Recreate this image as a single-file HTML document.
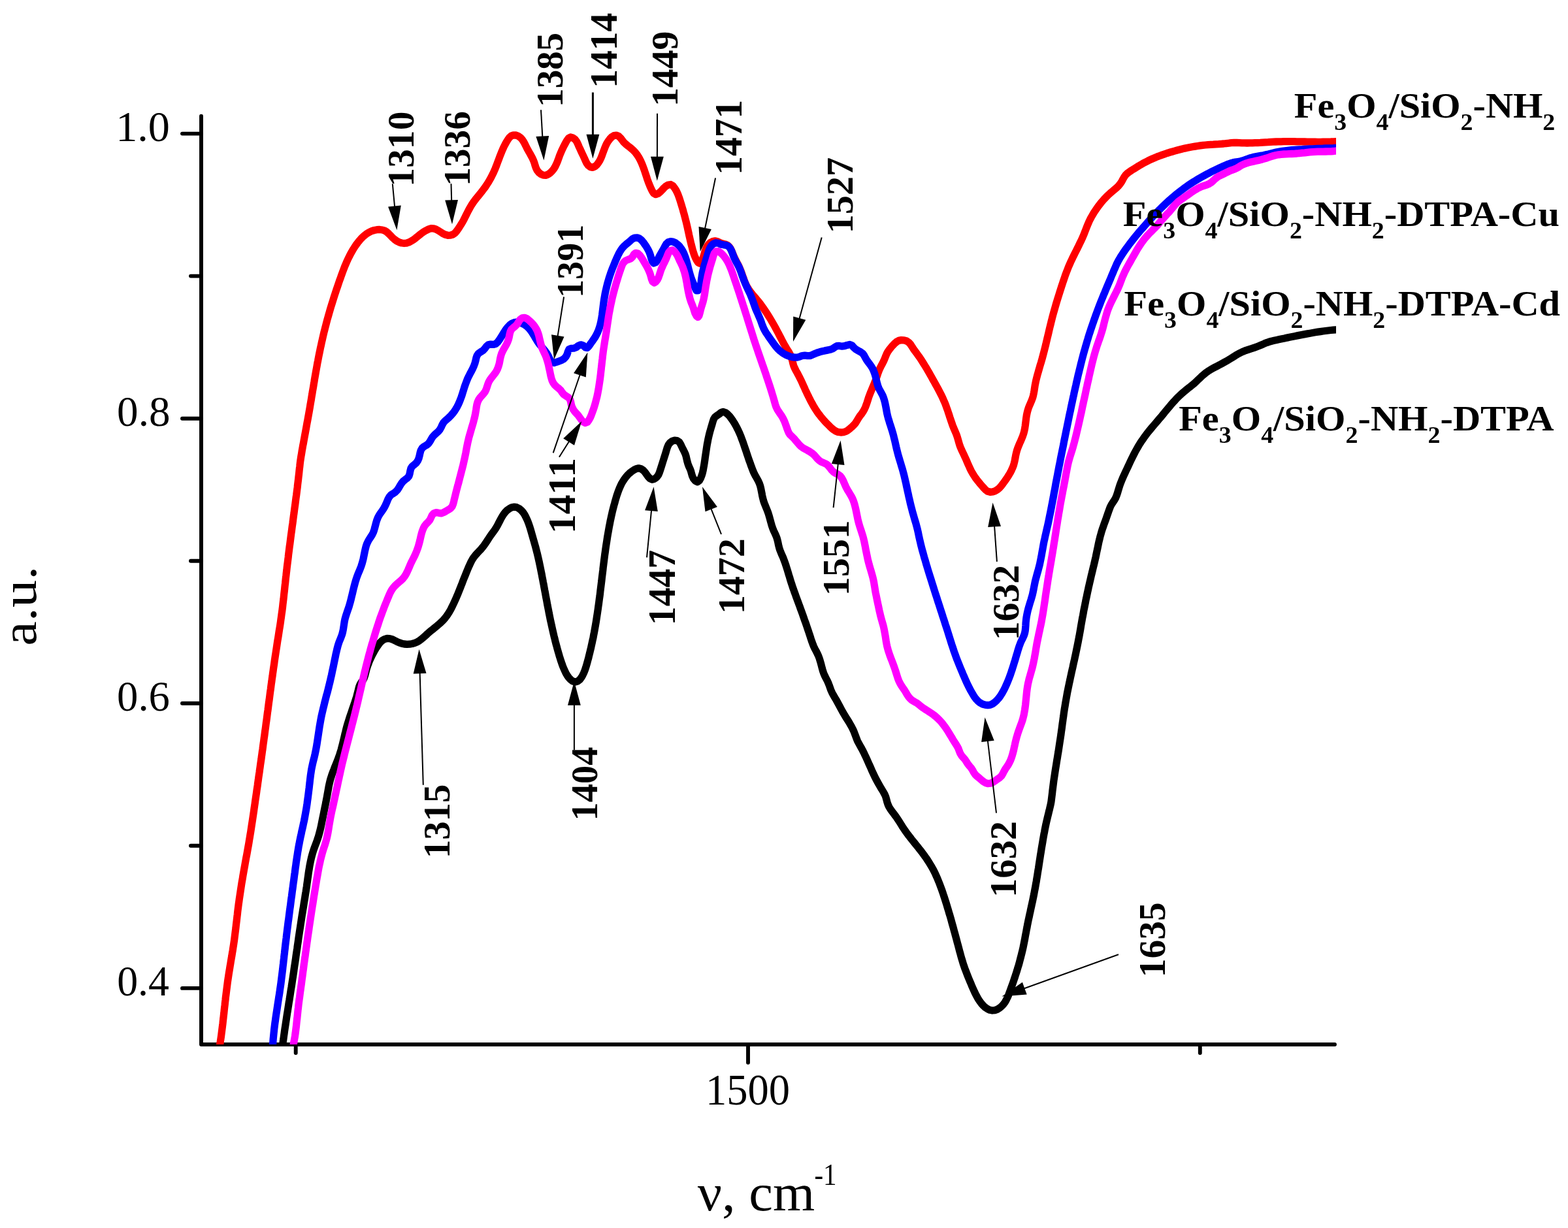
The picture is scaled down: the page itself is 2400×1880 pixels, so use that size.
<!DOCTYPE html>
<html lang="en"><head><meta charset="utf-8"><title>FTIR spectra</title>
<style>html,body{margin:0;padding:0;background:#fff}body{width:2400px;height:1880px;overflow:hidden}svg{display:block}text{font-family:"Liberation Serif","DejaVu Serif",serif;fill:#000}.b{font-weight:bold}</style></head><body>
<svg xmlns="http://www.w3.org/2000/svg" width="2400" height="1880" viewBox="0 0 2400 1880">
<rect width="2400" height="1880" fill="#fff"/>
<defs><clipPath id="plot"><rect x="308.0" y="0" width="1737.0" height="1599.0"/></clipPath></defs>
<g id="axes" stroke="#000" stroke-width="5.9" stroke-linecap="round" fill="none">
<path d="M308.0 177.8 V1599.0 H2043.0" stroke-linejoin="round"/>
<line x1="279.0" y1="204.6" x2="308.0" y2="204.6"/>
<line x1="292.0" y1="422.6" x2="308.0" y2="422.6"/>
<line x1="279.0" y1="640.7" x2="308.0" y2="640.7"/>
<line x1="292.0" y1="858.7" x2="308.0" y2="858.7"/>
<line x1="279.0" y1="1076.8" x2="308.0" y2="1076.8"/>
<line x1="292.0" y1="1294.8" x2="308.0" y2="1294.8"/>
<line x1="279.0" y1="1512.9" x2="308.0" y2="1512.9"/>
<line x1="452.7" y1="1599.0" x2="452.7" y2="1612.0"/>
<line x1="1145.0" y1="1599.0" x2="1145.0" y2="1626.8"/>
<line x1="1836.8" y1="1599.0" x2="1836.8" y2="1612.0"/>
</g>
<g id="curves" clip-path="url(#plot)" fill="none" stroke-linejoin="round" stroke-linecap="butt">
<path id="c-black" d="M427.1 1640.0L432.8 1598.5L433.3 1594.5L433.9 1590.6L434.4 1586.6L435.0 1582.6L435.5 1578.7L436.1 1574.7L436.7 1570.8L437.3 1566.8L437.9 1562.8L438.5 1558.9L439.1 1554.9L439.7 1551.0L440.4 1547.0L441.0 1543.0L441.6 1539.1L442.2 1535.1L442.9 1531.2L443.5 1527.2L444.1 1523.3L444.7 1519.3L445.3 1515.4L446.0 1511.4L446.6 1507.4L447.2 1503.5L447.8 1499.5L448.4 1495.6L449.0 1491.6L449.6 1487.6L450.1 1483.7L450.7 1479.7L451.3 1475.8L451.9 1471.8L452.5 1467.8L453.0 1463.9L453.6 1459.9L454.2 1455.9L454.8 1452.0L455.3 1448.0L455.9 1444.1L456.5 1440.1L457.0 1436.1L457.6 1432.2L458.2 1428.2L458.8 1424.2L459.4 1420.3L460.0 1416.3L460.6 1412.4L461.2 1408.4L461.8 1404.4L462.4 1400.5L463.1 1396.5L463.7 1392.6L464.4 1388.6L465.0 1384.7L465.6 1380.7L466.3 1376.8L466.9 1372.8L467.5 1368.9L468.2 1364.9L468.8 1360.9L469.4 1357.0L469.9 1353.0L470.5 1349.1L471.0 1345.1L471.6 1341.1L472.1 1337.2L472.7 1333.2L473.4 1329.2L474.0 1325.3L474.8 1321.4L475.6 1317.4L476.5 1313.5L477.5 1309.6L478.6 1305.8L479.8 1301.9L481.1 1298.2L482.5 1294.4L483.9 1290.7L485.3 1286.9L486.6 1283.1L487.8 1279.3L488.8 1275.5L489.8 1271.6L490.8 1267.7L491.6 1263.8L492.4 1259.8L493.2 1255.9L494.0 1252.0L494.8 1248.0L495.6 1244.1L496.4 1240.2L497.2 1236.2L498.0 1232.3L498.8 1228.4L499.5 1224.5L500.3 1220.5L501.0 1216.6L501.7 1212.6L502.4 1208.7L503.1 1204.7L503.9 1200.8L504.8 1196.9L505.8 1193.0L507.0 1189.2L508.2 1185.4L509.6 1181.7L511.1 1178.0L512.5 1174.2L514.0 1170.5L515.5 1166.8L517.0 1163.1L518.4 1159.3L519.7 1155.5L520.9 1151.7L522.1 1147.9L523.1 1144.0L524.1 1140.1L525.1 1136.2L526.0 1132.3L526.9 1128.4L527.8 1124.5L528.8 1120.6L529.7 1116.7L530.7 1112.8L531.8 1109.0L533.0 1105.2L534.2 1101.3L535.4 1097.6L536.7 1093.8L538.0 1090.0L539.3 1086.2L540.6 1082.4L541.9 1078.6L543.2 1074.8L544.4 1071.0L545.6 1067.2L546.6 1063.3L547.7 1059.4L548.6 1055.5L549.6 1051.6L551.0 1047.9L553.1 1044.5L555.5 1041.3L557.3 1037.8L558.6 1034.0L559.6 1030.1L560.6 1026.1L561.7 1022.3L563.0 1018.5L564.4 1014.7L565.9 1011.0L567.5 1007.4L569.3 1003.8L571.1 1000.2L573.0 996.7L575.0 993.3L577.2 989.9L579.6 986.5L582.1 983.3L585.0 980.6L588.4 978.6L592.3 977.5L596.4 977.6L600.2 978.7L603.9 980.5L607.5 982.3L611.1 983.9L614.9 985.2L618.8 986.0L622.9 986.3L627.0 986.2L631.0 985.5L634.9 984.4L638.5 982.8L641.9 980.8L645.0 978.5L648.1 975.9L651.1 973.2L654.0 970.5L657.1 967.8L660.2 965.2L663.4 962.7L666.5 960.1L669.6 957.6L672.6 955.0L675.6 952.3L678.4 949.5L681.0 946.5L683.4 943.4L685.7 940.1L687.8 936.7L689.8 933.2L691.6 929.6L693.4 926.0L695.1 922.3L696.8 918.7L698.4 915.0L700.0 911.3L701.5 907.6L703.0 903.9L704.5 900.2L705.9 896.5L707.4 892.8L708.8 889.1L710.3 885.3L711.8 881.6L713.3 877.9L714.8 874.2L716.3 870.5L717.9 866.8L719.6 863.1L721.3 859.5L723.3 856.0L725.5 852.7L728.0 849.6L730.7 846.6L733.5 843.7L736.2 840.8L738.8 837.7L741.2 834.6L743.5 831.3L745.7 827.9L747.9 824.5L750.0 821.2L752.4 817.9L754.8 814.7L757.1 811.5L759.3 808.1L761.3 804.7L763.1 801.1L765.0 797.5L766.8 794.0L768.8 790.5L770.9 787.2L773.4 784.0L776.3 781.1L779.6 778.7L783.2 776.8L787.1 776.1L790.9 776.7L794.5 778.5L797.7 781.1L800.4 784.1L802.7 787.4L804.6 791.0L806.3 794.6L807.9 798.3L809.3 802.0L810.6 805.8L811.8 809.6L812.9 813.4L814.0 817.3L815.1 821.1L816.2 825.0L817.3 828.8L818.4 832.7L819.5 836.5L820.5 840.4L821.5 844.3L822.5 848.2L823.4 852.1L824.3 856.0L825.2 859.9L826.0 863.8L826.8 867.7L827.6 871.6L828.4 875.6L829.2 879.5L829.9 883.4L830.7 887.4L831.4 891.3L832.2 895.2L832.9 899.2L833.6 903.1L834.4 907.0L835.1 911.0L835.8 914.9L836.6 918.8L837.3 922.8L838.0 926.7L838.8 930.6L839.6 934.6L840.3 938.5L841.1 942.4L841.9 946.3L842.7 950.3L843.6 954.2L844.4 958.1L845.3 962.0L846.2 965.9L847.1 969.9L848.0 973.8L849.0 977.7L849.9 981.5L850.9 985.4L852.0 989.3L853.0 993.1L854.1 997.0L855.2 1000.8L856.3 1004.6L857.5 1008.4L858.7 1012.2L860.0 1016.0L861.4 1019.8L862.9 1023.5L864.6 1027.3L866.3 1030.9L868.4 1034.4L870.7 1037.6L873.5 1040.5L876.7 1042.9L880.3 1044.0L884.1 1043.0L887.4 1040.5L889.9 1037.2L891.9 1033.7L893.6 1030.1L895.1 1026.4L896.4 1022.6L897.6 1018.8L898.7 1014.9L899.7 1011.1L900.8 1007.2L901.7 1003.3L902.7 999.4L903.6 995.5L904.6 991.6L905.4 987.7L906.3 983.8L907.1 979.9L908.0 976.0L908.7 972.0L909.5 968.1L910.2 964.2L910.9 960.2L911.6 956.3L912.3 952.3L912.9 948.4L913.5 944.4L914.1 940.5L914.7 936.5L915.3 932.5L915.8 928.6L916.4 924.6L916.9 920.6L917.4 916.7L918.0 912.7L918.5 908.7L918.9 904.7L919.4 900.8L919.9 896.8L920.4 892.8L920.9 888.8L921.3 884.9L921.8 880.9L922.3 876.9L922.8 872.9L923.2 868.9L923.7 865.0L924.2 861.0L924.7 857.0L925.2 853.1L925.7 849.1L926.3 845.1L926.8 841.2L927.4 837.2L928.0 833.2L928.6 829.3L929.2 825.3L929.8 821.4L930.5 817.4L931.2 813.5L931.9 809.5L932.6 805.6L933.4 801.7L934.1 797.8L935.0 793.8L935.8 789.9L936.7 786.0L937.6 782.1L938.6 778.2L939.6 774.3L940.7 770.5L941.7 766.6L942.9 762.7L944.0 758.9L945.3 755.1L946.6 751.3L948.1 747.6L949.7 744.0L951.4 740.4L953.4 737.0L955.6 733.6L958.0 730.4L960.6 727.3L963.5 724.5L966.7 721.9L970.1 719.6L973.7 717.7L977.5 716.8L981.2 717.7L984.6 720.0L987.3 723.0L989.6 726.3L992.1 729.8L995.0 732.8L998.4 734.1L1002.1 733.0L1005.4 730.3L1007.8 726.9L1009.4 723.2L1010.7 719.4L1011.9 715.5L1013.1 711.7L1014.3 707.9L1015.5 704.1L1016.7 700.3L1017.9 696.5L1019.1 692.7L1020.2 688.8L1021.4 684.9L1023.0 681.2L1025.4 678.0L1028.6 675.4L1032.5 674.2L1036.5 674.6L1039.7 676.7L1041.8 680.1L1043.6 684.0L1045.4 687.7L1047.3 691.3L1048.9 694.8L1050.1 698.5L1051.0 702.5L1051.9 706.4L1053.0 710.3L1054.4 714.0L1056.1 717.6L1057.5 721.3L1058.5 725.1L1059.7 729.0L1061.5 732.9L1064.4 736.3L1067.6 737.7L1070.3 735.9L1072.5 732.0L1074.1 727.8L1075.3 723.8L1076.2 719.9L1076.9 716.1L1077.6 712.2L1078.2 708.4L1078.8 704.4L1079.3 700.5L1079.9 696.5L1080.5 692.5L1081.1 688.5L1081.7 684.5L1082.3 680.6L1083.1 676.6L1083.8 672.7L1084.7 668.7L1085.6 664.9L1086.6 661.0L1087.7 657.2L1088.8 653.4L1090.0 649.5L1091.1 645.5L1092.4 641.7L1094.4 638.4L1097.3 636.2L1100.7 634.0L1103.8 631.5L1107.1 630.5L1110.7 631.8L1113.9 634.3L1116.7 637.2L1119.2 640.5L1121.5 643.8L1123.7 647.2L1125.7 650.6L1127.6 654.1L1129.4 657.7L1131.1 661.3L1132.7 665.0L1134.2 668.7L1135.6 672.5L1137.0 676.2L1138.3 680.0L1139.6 683.8L1140.9 687.6L1142.2 691.4L1143.4 695.2L1144.7 699.0L1146.0 702.8L1147.3 706.6L1148.7 710.3L1150.0 714.1L1151.4 717.8L1152.9 721.6L1154.5 725.2L1156.4 728.8L1158.4 732.3L1160.3 735.7L1162.0 739.3L1163.4 743.1L1164.4 746.9L1165.2 750.8L1166.0 754.8L1166.7 758.8L1167.6 762.7L1168.6 766.6L1169.9 770.4L1171.4 774.1L1172.9 777.8L1174.4 781.5L1175.8 785.3L1177.0 789.1L1178.1 793.0L1179.1 796.8L1180.2 800.7L1181.3 804.6L1182.6 808.4L1184.0 812.1L1185.7 815.7L1187.4 819.4L1188.9 823.1L1190.0 826.9L1190.9 830.8L1191.7 834.8L1192.7 838.7L1193.9 842.5L1195.4 846.2L1197.0 849.9L1198.6 853.6L1200.0 857.3L1201.4 861.0L1202.7 864.8L1203.9 868.6L1205.1 872.4L1206.3 876.3L1207.4 880.1L1208.6 883.9L1209.7 887.8L1210.9 891.6L1212.2 895.4L1213.4 899.2L1214.8 903.0L1216.1 906.8L1217.5 910.5L1218.8 914.3L1220.2 918.0L1221.6 921.8L1223.0 925.6L1224.4 929.3L1225.7 933.1L1227.1 936.8L1228.5 940.6L1229.8 944.4L1231.1 948.2L1232.5 951.9L1233.8 955.7L1235.1 959.5L1236.4 963.3L1237.7 967.1L1238.9 970.9L1240.2 974.7L1241.4 978.5L1242.7 982.3L1244.1 986.1L1245.6 989.8L1247.3 993.4L1249.2 996.9L1251.0 1000.5L1252.7 1004.1L1254.1 1007.9L1255.3 1011.7L1256.4 1015.5L1257.4 1019.4L1258.4 1023.3L1259.5 1027.2L1260.8 1031.0L1262.4 1034.6L1264.2 1038.2L1266.1 1041.8L1267.7 1045.4L1269.2 1049.2L1270.5 1052.9L1271.9 1056.7L1273.5 1060.3L1275.4 1063.9L1277.4 1067.3L1279.5 1070.8L1281.4 1074.3L1283.3 1077.8L1285.2 1081.3L1287.1 1084.9L1289.0 1088.4L1291.0 1091.8L1293.0 1095.3L1295.1 1098.7L1297.3 1102.1L1299.4 1105.5L1301.4 1109.0L1303.4 1112.5L1305.2 1116.0L1306.9 1119.6L1308.3 1123.4L1309.7 1127.1L1311.1 1130.9L1312.6 1134.6L1314.5 1138.1L1316.4 1141.6L1318.4 1145.1L1320.3 1148.6L1322.1 1152.2L1323.8 1155.8L1325.5 1159.4L1327.2 1163.1L1328.8 1166.7L1330.4 1170.4L1332.1 1174.0L1333.7 1177.7L1335.3 1181.4L1337.0 1185.0L1338.7 1188.6L1340.5 1192.2L1342.4 1195.7L1344.3 1199.2L1346.3 1202.7L1348.3 1206.2L1350.4 1209.6L1352.4 1213.0L1354.3 1216.5L1355.8 1220.2L1356.9 1224.1L1357.9 1228.0L1359.2 1231.9L1360.8 1235.4L1362.9 1238.8L1365.2 1242.1L1367.7 1245.3L1370.1 1248.5L1372.5 1251.8L1374.7 1255.1L1376.9 1258.5L1379.0 1261.9L1381.1 1265.3L1383.3 1268.6L1385.5 1271.9L1387.9 1275.2L1390.2 1278.4L1392.7 1281.5L1395.1 1284.7L1397.6 1287.8L1400.1 1290.9L1402.6 1294.0L1405.2 1297.1L1407.6 1300.3L1410.1 1303.4L1412.5 1306.6L1414.9 1309.9L1417.3 1313.2L1419.5 1316.5L1421.7 1319.8L1423.8 1323.3L1425.8 1326.7L1427.8 1330.2L1429.6 1333.7L1431.4 1337.3L1433.0 1340.9L1434.7 1344.6L1436.2 1348.3L1437.7 1352.0L1439.1 1355.7L1440.5 1359.5L1441.9 1363.3L1443.2 1367.1L1444.4 1370.9L1445.7 1374.7L1446.9 1378.5L1448.1 1382.3L1449.3 1386.1L1450.4 1390.0L1451.6 1393.8L1452.7 1397.7L1453.9 1401.5L1455.0 1405.3L1456.1 1409.2L1457.1 1413.0L1458.2 1416.9L1459.3 1420.8L1460.3 1424.6L1461.4 1428.5L1462.4 1432.3L1463.5 1436.2L1464.5 1440.1L1465.5 1443.9L1466.6 1447.8L1467.6 1451.7L1468.6 1455.6L1469.7 1459.4L1470.7 1463.3L1471.8 1467.1L1473.0 1471.0L1474.1 1474.8L1475.4 1478.6L1476.7 1482.4L1478.1 1486.1L1479.5 1489.8L1481.0 1493.6L1482.5 1497.3L1484.0 1501.0L1485.6 1504.7L1487.1 1508.4L1488.7 1512.1L1490.4 1515.8L1492.0 1519.4L1493.8 1523.0L1495.7 1526.5L1497.6 1529.9L1499.8 1533.2L1502.2 1536.4L1504.9 1539.4L1508.0 1542.3L1511.5 1544.6L1515.1 1546.3L1518.9 1547.0L1522.7 1546.6L1526.4 1545.3L1529.9 1543.2L1533.1 1540.5L1535.8 1537.6L1538.2 1534.4L1540.2 1530.9L1541.9 1527.4L1543.5 1523.7L1544.9 1519.9L1546.3 1516.1L1547.7 1512.3L1549.1 1508.5L1550.4 1504.8L1551.7 1501.0L1553.0 1497.2L1554.2 1493.4L1555.5 1489.5L1556.7 1485.7L1557.8 1481.9L1559.0 1478.1L1560.1 1474.2L1561.1 1470.4L1562.1 1466.5L1563.1 1462.6L1564.1 1458.8L1565.0 1454.9L1565.9 1451.0L1566.7 1447.1L1567.5 1443.1L1568.3 1439.2L1569.0 1435.2L1569.7 1431.3L1570.5 1427.4L1571.2 1423.4L1572.0 1419.5L1572.7 1415.5L1573.5 1411.6L1574.3 1407.7L1575.2 1403.8L1576.0 1399.8L1576.9 1395.9L1577.7 1392.0L1578.6 1388.1L1579.4 1384.2L1580.3 1380.3L1581.1 1376.4L1581.9 1372.5L1582.7 1368.6L1583.4 1364.6L1584.2 1360.7L1584.9 1356.8L1585.6 1352.8L1586.3 1348.9L1586.9 1344.9L1587.6 1341.0L1588.2 1337.0L1588.8 1333.1L1589.5 1329.1L1590.1 1325.1L1590.7 1321.2L1591.3 1317.2L1591.9 1313.3L1592.5 1309.3L1593.2 1305.3L1593.8 1301.4L1594.4 1297.4L1595.1 1293.5L1595.8 1289.5L1596.4 1285.6L1597.1 1281.6L1597.8 1277.7L1598.6 1273.8L1599.3 1269.8L1600.1 1265.9L1600.9 1262.0L1601.8 1258.1L1602.7 1254.2L1603.6 1250.3L1604.6 1246.4L1605.5 1242.5L1606.5 1238.6L1607.4 1234.7L1608.3 1230.8L1609.0 1226.9L1609.5 1222.9L1610.0 1218.9L1610.5 1215.0L1610.9 1211.0L1611.4 1207.0L1611.9 1203.0L1612.4 1199.0L1612.9 1195.1L1613.5 1191.1L1614.1 1187.2L1614.7 1183.2L1615.3 1179.2L1615.9 1175.3L1616.6 1171.3L1617.2 1167.4L1617.8 1163.4L1618.5 1159.5L1619.1 1155.5L1619.8 1151.6L1620.4 1147.6L1621.0 1143.7L1621.6 1139.7L1622.2 1135.7L1622.8 1131.8L1623.4 1127.8L1624.0 1123.9L1624.5 1119.9L1625.1 1115.9L1625.6 1112.0L1626.1 1108.0L1626.7 1104.0L1627.2 1100.1L1627.8 1096.1L1628.3 1092.1L1628.9 1088.2L1629.5 1084.2L1630.2 1080.3L1630.8 1076.3L1631.5 1072.4L1632.2 1068.4L1632.9 1064.5L1633.6 1060.6L1634.4 1056.6L1635.2 1052.7L1636.0 1048.8L1636.8 1044.9L1637.7 1041.0L1638.5 1037.0L1639.4 1033.1L1640.2 1029.2L1641.1 1025.3L1642.0 1021.4L1642.8 1017.5L1643.7 1013.6L1644.6 1009.7L1645.4 1005.8L1646.3 1001.8L1647.1 997.9L1647.9 994.0L1648.7 990.1L1649.5 986.2L1650.3 982.2L1651.0 978.3L1651.8 974.4L1652.5 970.4L1653.2 966.5L1653.9 962.5L1654.5 958.6L1655.2 954.6L1655.9 950.7L1656.6 946.7L1657.4 942.8L1658.1 938.9L1658.8 934.9L1659.6 931.0L1660.4 927.1L1661.2 923.2L1661.9 919.2L1662.8 915.3L1663.6 911.4L1664.4 907.5L1665.3 903.6L1666.1 899.6L1667.0 895.7L1667.9 891.8L1668.8 887.9L1669.7 884.0L1670.6 880.1L1671.6 876.2L1672.5 872.3L1673.4 868.5L1674.4 864.6L1675.3 860.7L1676.2 856.8L1677.1 852.9L1677.9 849.0L1678.7 845.0L1679.6 841.1L1680.4 837.2L1681.2 833.2L1682.0 829.3L1683.0 825.4L1683.9 821.5L1685.0 817.7L1686.1 813.8L1687.3 810.1L1688.6 806.3L1689.9 802.5L1691.3 798.7L1692.7 795.0L1694.0 791.2L1695.3 787.4L1696.6 783.6L1698.0 779.8L1699.4 776.0L1701.2 772.5L1703.4 769.1L1705.6 765.8L1707.6 762.4L1709.1 758.7L1710.4 754.9L1711.5 751.1L1712.7 747.2L1713.9 743.3L1715.3 739.6L1716.8 735.8L1718.3 732.1L1719.9 728.5L1721.6 724.8L1723.3 721.2L1725.0 717.6L1726.7 714.0L1728.4 710.4L1730.1 706.7L1731.8 703.1L1733.6 699.5L1735.4 695.9L1737.2 692.4L1739.1 688.9L1741.1 685.4L1743.1 681.9L1745.2 678.5L1747.4 675.2L1749.7 671.9L1752.0 668.6L1754.4 665.4L1756.8 662.2L1759.3 659.1L1761.9 656.0L1764.5 652.9L1767.1 649.9L1769.7 646.8L1772.3 643.8L1774.9 640.7L1777.5 637.7L1780.0 634.6L1782.5 631.5L1785.1 628.4L1787.6 625.4L1790.2 622.3L1792.8 619.2L1795.4 616.2L1798.1 613.3L1800.8 610.3L1803.6 607.5L1806.5 604.7L1809.5 602.0L1812.5 599.4L1815.6 596.8L1818.7 594.3L1821.9 591.9L1825.0 589.4L1828.1 586.8L1831.0 584.1L1833.9 581.3L1836.8 578.6L1839.7 575.8L1842.7 573.2L1845.8 570.6L1849.1 568.3L1852.5 566.2L1856.0 564.2L1859.5 562.3L1863.1 560.4L1866.6 558.6L1870.1 556.7L1873.6 554.8L1877.1 552.8L1880.6 550.8L1884.0 548.7L1887.4 546.6L1890.8 544.4L1894.2 542.4L1897.7 540.5L1901.3 538.7L1905.0 537.2L1908.8 535.9L1912.6 534.6L1916.4 533.4L1920.2 532.1L1924.0 530.7L1927.7 529.3L1931.4 527.7L1935.1 526.1L1938.8 524.6L1942.5 523.3L1946.4 522.2L1950.3 521.3L1954.2 520.5L1958.2 519.6L1962.1 518.8L1966.0 518.0L1969.9 517.1L1973.8 516.3L1977.7 515.5L1981.7 514.7L1985.6 513.9L1989.5 513.1L1993.4 512.4L1997.4 511.6L2001.3 510.9L2005.3 510.2L2009.2 509.5L2013.2 508.8L2017.1 508.2L2021.1 507.6L2025.0 507.0L2029.0 506.5L2033.0 506.0L2037.0 505.5L2040.9 505.1L2044.9 504.8L2060.0 504.8" stroke="#000" stroke-width="11.3"/>
<path id="c-red" d="M330.7 1640.0L336.7 1598.5L337.3 1594.5L337.9 1590.6L338.5 1586.6L339.0 1582.6L339.5 1578.7L340.0 1574.7L340.5 1570.7L341.0 1566.7L341.4 1562.8L341.9 1558.8L342.3 1554.8L342.8 1550.8L343.2 1546.8L343.6 1542.9L344.1 1538.9L344.5 1534.9L345.0 1530.9L345.4 1526.9L345.9 1523.0L346.4 1519.0L346.9 1515.0L347.4 1511.0L347.9 1507.1L348.4 1503.1L349.0 1499.1L349.6 1495.2L350.2 1491.2L350.8 1487.3L351.5 1483.3L352.1 1479.4L352.8 1475.4L353.4 1471.5L354.1 1467.5L354.8 1463.6L355.4 1459.6L356.1 1455.7L356.7 1451.7L357.3 1447.8L357.9 1443.8L358.5 1439.8L359.0 1435.9L359.5 1431.9L360.0 1427.9L360.5 1424.0L361.0 1420.0L361.4 1416.0L361.9 1412.0L362.4 1408.0L362.8 1404.1L363.3 1400.1L363.7 1396.1L364.2 1392.1L364.7 1388.2L365.2 1384.2L365.8 1380.2L366.3 1376.3L366.9 1372.3L367.5 1368.3L368.1 1364.4L368.7 1360.4L369.3 1356.5L369.9 1352.5L370.6 1348.6L371.3 1344.6L371.9 1340.7L372.6 1336.7L373.3 1332.8L374.0 1328.8L374.7 1324.9L375.4 1320.9L376.1 1317.0L376.8 1313.1L377.6 1309.1L378.3 1305.2L379.0 1301.2L379.7 1297.3L380.4 1293.4L381.1 1289.4L381.7 1285.5L382.4 1281.5L383.0 1277.6L383.7 1273.6L384.3 1269.7L384.9 1265.7L385.5 1261.7L386.1 1257.8L386.7 1253.8L387.3 1249.9L387.9 1245.9L388.5 1241.9L389.0 1238.0L389.6 1234.0L390.2 1230.0L390.7 1226.1L391.3 1222.1L391.9 1218.2L392.5 1214.2L393.0 1210.2L393.6 1206.3L394.2 1202.3L394.7 1198.3L395.3 1194.4L395.8 1190.4L396.4 1186.4L397.0 1182.5L397.5 1178.5L398.1 1174.5L398.6 1170.6L399.2 1166.6L399.8 1162.7L400.3 1158.7L400.9 1154.7L401.4 1150.8L402.0 1146.8L402.5 1142.8L403.0 1138.9L403.6 1134.9L404.1 1130.9L404.7 1126.9L405.2 1123.0L405.7 1119.0L406.3 1115.0L406.8 1111.1L407.3 1107.1L407.9 1103.1L408.4 1099.2L408.9 1095.2L409.4 1091.2L410.0 1087.3L410.5 1083.3L411.0 1079.3L411.5 1075.3L412.1 1071.4L412.6 1067.4L413.1 1063.4L413.6 1059.5L414.2 1055.5L414.7 1051.5L415.2 1047.6L415.8 1043.6L416.3 1039.6L416.9 1035.7L417.4 1031.7L418.0 1027.7L418.5 1023.8L419.1 1019.8L419.7 1015.8L420.2 1011.9L420.8 1007.9L421.4 1003.9L422.0 1000.0L422.6 996.0L423.2 992.1L423.8 988.1L424.4 984.2L425.0 980.2L425.7 976.2L426.3 972.3L426.9 968.3L427.5 964.4L428.2 960.4L428.8 956.5L429.4 952.5L429.9 948.6L430.5 944.6L431.0 940.6L431.6 936.7L432.1 932.7L432.6 928.7L433.0 924.7L433.5 920.8L434.0 916.8L434.4 912.8L434.8 908.8L435.3 904.8L435.7 900.9L436.1 896.9L436.6 892.9L437.0 888.9L437.4 884.9L437.9 880.9L438.3 877.0L438.8 873.0L439.2 869.0L439.7 865.0L440.2 861.1L440.7 857.1L441.2 853.1L441.6 849.1L442.1 845.2L442.6 841.2L443.1 837.2L443.7 833.2L444.2 829.3L444.7 825.3L445.2 821.3L445.7 817.4L446.3 813.4L446.8 809.4L447.3 805.5L447.9 801.5L448.4 797.5L448.9 793.5L449.4 789.6L450.0 785.6L450.5 781.6L451.0 777.7L451.6 773.7L452.1 769.7L452.6 765.8L453.1 761.8L453.7 757.8L454.2 753.8L454.7 749.9L455.2 745.9L455.6 741.9L456.1 737.9L456.6 734.0L457.0 730.0L457.5 726.0L457.9 722.0L458.3 718.0L458.8 714.1L459.2 710.1L459.7 706.1L460.3 702.2L460.9 698.2L461.6 694.3L462.2 690.3L462.9 686.4L463.6 682.4L464.4 678.5L465.1 674.6L465.8 670.6L466.5 666.7L467.3 662.7L468.0 658.8L468.7 654.9L469.4 650.9L470.1 647.0L470.9 643.0L471.6 639.1L472.3 635.1L473.0 631.2L473.7 627.3L474.4 623.3L475.0 619.4L475.7 615.4L476.4 611.5L477.0 607.5L477.7 603.6L478.3 599.6L479.0 595.7L479.7 591.7L480.3 587.8L481.0 583.9L481.6 579.9L482.3 576.0L483.0 572.0L483.7 568.1L484.4 564.1L485.1 560.2L485.8 556.2L486.6 552.3L487.3 548.4L488.1 544.4L488.9 540.5L489.7 536.6L490.5 532.7L491.4 528.7L492.2 524.8L493.1 520.9L494.0 517.0L494.9 513.1L495.8 509.2L496.8 505.3L497.8 501.4L498.8 497.6L499.8 493.7L500.8 489.8L501.9 486.0L503.0 482.1L504.1 478.3L505.2 474.4L506.3 470.6L507.5 466.8L508.7 463.0L509.9 459.1L511.1 455.3L512.3 451.5L513.6 447.7L514.8 443.9L516.1 440.1L517.4 436.3L518.7 432.5L520.0 428.7L521.4 425.0L522.7 421.2L524.1 417.4L525.5 413.6L526.9 409.9L528.4 406.2L530.0 402.5L531.6 398.8L533.3 395.2L535.1 391.6L536.9 388.1L538.9 384.6L540.9 381.2L543.1 377.8L545.3 374.5L547.7 371.3L550.3 368.1L552.9 365.1L555.8 362.3L558.8 359.7L562.0 357.3L565.4 355.3L569.0 353.7L572.8 352.5L576.9 351.7L581.1 351.5L585.1 352.0L588.8 353.2L592.1 355.2L595.0 357.8L597.8 360.7L600.6 363.6L603.7 366.4L607.1 368.9L610.8 370.8L614.6 372.0L618.5 372.5L622.3 372.1L626.0 370.9L629.5 369.1L632.9 366.9L636.2 364.4L639.4 361.8L642.6 359.3L645.7 356.9L648.9 354.7L652.4 352.7L656.0 350.9L659.9 349.7L663.8 349.8L667.5 351.1L671.1 353.1L674.6 355.4L678.1 357.6L681.7 359.3L685.5 360.3L689.4 360.2L693.3 359.0L696.6 356.6L699.2 353.5L701.5 350.2L703.7 346.9L705.8 343.5L707.9 340.1L709.8 336.6L711.6 333.0L713.4 329.4L715.2 325.8L717.0 322.2L718.9 318.7L720.9 315.2L723.0 311.9L725.3 308.6L727.7 305.4L730.2 302.3L732.8 299.1L735.3 296.0L737.8 292.9L740.2 289.7L742.6 286.5L744.8 283.2L747.0 279.8L749.0 276.4L751.0 272.9L752.8 269.4L754.6 265.8L756.3 262.1L757.9 258.4L759.4 254.7L760.8 250.9L762.2 247.1L763.6 243.4L765.0 239.6L766.5 235.9L768.0 232.2L769.5 228.6L771.1 225.0L772.9 221.5L774.8 218.0L777.0 214.4L779.4 210.9L782.4 208.1L785.9 206.8L789.8 207.0L793.6 208.5L796.8 210.8L799.4 213.7L801.6 217.1L803.5 220.7L805.3 224.4L807.1 228.0L809.1 231.6L811.1 235.0L813.0 238.5L814.9 242.0L816.5 245.6L817.9 249.3L819.0 253.1L820.3 257.0L822.1 260.7L824.7 264.0L827.9 266.6L831.5 268.2L835.2 268.4L838.7 267.1L842.1 264.8L845.1 261.8L847.7 258.5L849.8 255.0L851.5 251.4L853.1 247.7L854.5 244.0L855.8 240.3L857.2 236.6L858.7 233.0L860.3 229.4L862.0 225.8L863.8 222.2L865.8 218.5L867.9 214.8L870.3 211.6L873.3 210.0L876.9 210.9L880.3 213.5L882.7 216.8L884.5 220.5L886.1 224.3L887.8 227.9L889.4 231.5L891.1 235.1L892.8 238.6L894.5 242.3L896.1 246.0L897.9 249.7L900.2 253.0L903.5 255.6L907.3 256.4L910.7 254.9L913.7 252.1L916.1 248.9L918.2 245.5L919.9 241.8L921.4 238.1L922.8 234.2L924.2 230.4L925.6 226.7L927.1 223.0L928.8 219.5L930.9 216.1L933.4 212.8L936.3 209.8L939.6 207.6L943.3 207.1L947.0 208.6L950.0 211.5L952.4 214.7L954.9 217.9L957.8 220.6L960.9 223.2L964.1 225.6L967.2 228.2L970.2 230.9L972.8 233.8L975.2 237.0L977.4 240.3L979.3 243.8L981.1 247.4L982.7 251.1L984.2 254.9L985.6 258.7L986.9 262.5L988.2 266.3L989.4 270.0L990.6 273.8L991.9 277.5L993.3 281.2L994.8 284.9L996.5 288.7L998.4 292.6L1000.7 296.1L1003.7 297.7L1007.2 296.5L1010.5 293.9L1013.4 290.9L1016.1 287.9L1019.1 285.1L1022.8 283.0L1026.6 282.5L1029.8 284.4L1032.3 287.5L1034.5 290.9L1036.3 294.4L1037.9 298.1L1039.3 301.9L1040.6 305.8L1041.8 309.6L1043.0 313.5L1044.1 317.3L1045.3 321.2L1046.3 325.0L1047.4 328.8L1048.4 332.7L1049.4 336.6L1050.4 340.4L1051.3 344.3L1052.2 348.2L1053.0 352.1L1053.9 356.0L1054.7 359.9L1055.6 363.8L1056.5 367.7L1057.4 371.6L1058.4 375.5L1059.4 379.4L1060.4 383.3L1061.6 387.2L1062.9 391.0L1064.4 394.7L1066.3 398.4L1068.6 401.9L1071.1 403.2L1073.6 400.7L1075.5 396.8L1076.8 392.9L1077.9 389.0L1079.0 385.0L1080.4 381.2L1082.1 377.5L1084.4 374.2L1087.3 371.5L1090.7 369.6L1094.5 368.9L1098.3 369.7L1102.0 371.6L1106.0 373.0L1109.9 373.9L1113.4 375.2L1116.1 377.6L1118.3 380.8L1120.1 384.6L1121.7 388.7L1123.4 392.7L1125.1 396.5L1127.0 400.1L1128.9 403.6L1130.7 407.1L1132.3 410.7L1133.8 414.3L1135.2 418.1L1136.5 421.9L1137.9 425.7L1139.2 429.5L1140.7 433.3L1142.4 436.9L1144.3 440.4L1146.4 443.7L1148.7 446.9L1151.2 450.1L1153.8 453.1L1156.4 456.2L1159.0 459.3L1161.5 462.4L1164.0 465.6L1166.3 468.8L1168.7 472.1L1170.9 475.4L1173.1 478.7L1175.3 482.1L1177.4 485.5L1179.5 488.9L1181.5 492.3L1183.5 495.8L1185.5 499.3L1187.4 502.8L1189.3 506.4L1191.2 509.9L1193.0 513.4L1194.9 517.0L1196.7 520.5L1198.6 524.1L1200.5 527.6L1202.5 531.1L1204.5 534.5L1206.7 537.9L1208.7 541.4L1210.5 544.9L1211.9 548.7L1212.9 552.5L1213.8 556.4L1214.9 560.3L1216.5 563.9L1218.3 567.5L1220.3 571.0L1222.2 574.6L1224.0 578.1L1225.8 581.7L1227.5 585.3L1229.1 589.0L1230.8 592.6L1232.4 596.3L1234.1 599.9L1235.8 603.5L1237.6 607.1L1239.3 610.7L1241.2 614.3L1243.1 617.8L1245.0 621.3L1247.1 624.7L1249.2 628.1L1251.5 631.4L1253.8 634.6L1256.3 637.8L1258.9 640.9L1261.5 643.9L1264.2 646.8L1267.0 649.7L1269.9 652.6L1272.8 655.3L1275.8 657.8L1279.1 659.9L1282.8 661.4L1286.9 662.0L1291.1 661.7L1294.8 660.5L1298.1 658.4L1301.3 655.8L1304.3 653.2L1307.2 650.3L1309.7 647.3L1311.8 643.9L1313.8 640.5L1316.0 637.1L1318.5 633.9L1320.8 630.6L1322.8 627.2L1324.5 623.5L1325.9 619.8L1327.2 616.0L1328.4 612.2L1329.6 608.4L1331.0 604.6L1332.4 600.9L1334.0 597.2L1335.5 593.5L1337.1 589.8L1338.6 586.1L1340.1 582.4L1341.4 578.6L1342.7 574.8L1344.0 571.0L1345.4 567.2L1347.0 563.6L1348.8 560.0L1350.7 556.5L1352.5 552.9L1354.1 549.2L1355.6 545.4L1357.1 541.8L1359.0 538.3L1361.3 535.1L1363.8 531.9L1366.5 528.8L1369.3 525.8L1372.3 523.3L1375.7 521.4L1379.6 520.6L1383.7 520.8L1387.6 522.0L1391.0 524.2L1393.6 527.1L1395.8 530.5L1398.0 533.9L1400.3 537.2L1402.7 540.4L1405.1 543.7L1407.4 546.9L1409.6 550.2L1411.8 553.6L1413.9 557.0L1416.0 560.4L1418.1 563.8L1420.1 567.3L1422.1 570.7L1424.1 574.2L1426.1 577.7L1428.0 581.2L1430.0 584.7L1431.9 588.2L1433.9 591.7L1435.8 595.2L1437.7 598.8L1439.5 602.3L1441.3 605.9L1443.0 609.5L1444.6 613.2L1446.2 616.8L1447.7 620.6L1449.0 624.3L1450.4 628.1L1451.6 631.9L1452.9 635.7L1454.1 639.5L1455.4 643.3L1456.7 647.1L1458.0 650.9L1459.4 654.6L1461.0 658.3L1462.6 662.0L1464.1 665.7L1465.4 669.5L1466.5 673.3L1467.6 677.2L1468.7 681.0L1470.1 684.8L1471.7 688.5L1473.4 692.1L1475.1 695.7L1476.8 699.3L1478.5 703.0L1480.1 706.7L1481.6 710.3L1483.3 714.0L1484.9 717.6L1486.7 721.2L1488.7 724.7L1490.8 728.1L1493.0 731.5L1495.4 734.7L1497.9 737.8L1500.4 740.9L1503.0 743.9L1505.7 746.9L1508.6 750.0L1511.8 752.3L1515.6 753.3L1519.6 752.9L1523.5 751.6L1526.8 749.5L1529.8 746.9L1532.4 744.0L1534.9 740.8L1537.3 737.5L1539.6 734.2L1541.9 730.8L1544.1 727.4L1546.1 724.0L1548.0 720.4L1549.6 716.8L1551.1 713.1L1552.2 709.3L1553.1 705.4L1553.9 701.5L1554.6 697.5L1555.5 693.5L1556.5 689.7L1557.8 685.9L1559.3 682.1L1560.8 678.5L1562.5 674.8L1564.1 671.1L1565.5 667.4L1566.8 663.7L1567.8 659.8L1568.6 655.9L1569.2 652.0L1569.7 648.0L1570.2 644.0L1570.7 640.0L1571.3 636.0L1572.1 632.1L1573.1 628.2L1574.3 624.4L1575.8 620.7L1577.4 617.0L1579.0 613.3L1580.4 609.6L1581.5 605.7L1582.3 601.8L1583.0 597.9L1583.6 593.9L1584.2 590.0L1585.0 586.0L1585.8 582.1L1586.8 578.2L1587.8 574.3L1588.9 570.5L1590.0 566.6L1591.1 562.8L1592.2 558.9L1593.4 555.1L1594.5 551.3L1595.6 547.4L1596.6 543.5L1597.6 539.7L1598.6 535.8L1599.6 531.9L1600.6 528.0L1601.5 524.1L1602.4 520.2L1603.3 516.3L1604.3 512.4L1605.2 508.5L1606.1 504.6L1607.0 500.8L1608.0 496.9L1608.9 493.0L1609.9 489.1L1610.9 485.2L1611.9 481.4L1613.0 477.5L1614.1 473.6L1615.2 469.8L1616.3 465.9L1617.4 462.1L1618.6 458.3L1619.8 454.4L1621.0 450.6L1622.2 446.8L1623.4 443.0L1624.6 439.2L1625.9 435.4L1627.1 431.6L1628.4 427.8L1629.7 424.0L1631.0 420.2L1632.4 416.5L1633.9 412.7L1635.3 409.0L1636.9 405.4L1638.5 401.7L1640.2 398.1L1641.9 394.5L1643.7 390.9L1645.5 387.3L1647.3 383.7L1649.1 380.1L1650.9 376.5L1652.6 372.9L1654.4 369.3L1656.1 365.7L1657.7 362.0L1659.3 358.3L1660.7 354.6L1662.2 350.8L1663.6 347.1L1665.1 343.4L1666.7 339.7L1668.4 336.1L1670.3 332.5L1672.3 329.1L1674.3 325.6L1676.5 322.3L1678.8 319.0L1681.1 315.7L1683.6 312.5L1686.1 309.4L1688.7 306.4L1691.4 303.4L1694.2 300.6L1697.1 297.8L1700.0 295.1L1703.1 292.5L1706.2 289.9L1709.3 287.2L1712.1 284.4L1714.6 281.4L1716.8 278.1L1718.7 274.5L1720.7 271.0L1723.0 267.8L1725.8 265.1L1729.1 262.7L1732.4 260.5L1735.9 258.4L1739.3 256.2L1742.7 254.1L1746.2 252.1L1749.6 250.1L1753.2 248.2L1756.7 246.4L1760.3 244.7L1764.0 243.0L1767.6 241.5L1771.3 239.9L1775.1 238.5L1778.8 237.1L1782.6 235.8L1786.4 234.5L1790.2 233.3L1794.1 232.2L1797.9 231.1L1801.8 230.0L1805.7 229.0L1809.6 228.0L1813.5 227.1L1817.4 226.3L1821.3 225.5L1825.2 224.8L1829.2 224.1L1833.1 223.5L1837.1 222.9L1841.0 222.4L1845.0 222.0L1849.0 221.6L1853.0 221.3L1857.0 221.1L1861.0 220.8L1865.0 220.6L1869.0 220.3L1873.0 220.0L1877.0 219.6L1881.0 219.2L1884.9 218.7L1888.9 218.5L1892.9 218.4L1896.9 218.6L1900.9 218.8L1904.9 218.9L1908.9 219.0L1912.9 218.9L1916.9 218.9L1920.9 218.7L1924.9 218.6L1928.9 218.4L1932.9 218.1L1936.9 217.9L1940.9 217.7L1944.9 217.4L1948.9 217.2L1952.9 217.0L1956.9 216.9L1960.9 216.8L1964.9 216.7L1969.0 216.7L1973.0 216.7L1977.0 216.7L1981.0 216.7L1985.0 216.8L1989.0 216.8L1993.0 216.9L1997.0 217.0L2001.0 217.1L2005.0 217.1L2009.0 217.2L2013.0 217.2L2017.0 217.3L2021.0 217.3L2025.0 217.2L2029.0 217.2L2033.0 217.1L2037.0 217.0L2041.0 216.8L2045.0 216.6L2060.0 216.6" stroke="#f00" stroke-width="11.3"/>
<path id="c-blue" d="M414.3 1640.0L417.6 1598.5L417.9 1594.5L418.2 1590.5L418.6 1586.5L419.0 1582.5L419.4 1578.5L419.8 1574.6L420.3 1570.6L420.8 1566.6L421.4 1562.6L421.9 1558.7L422.5 1554.7L423.1 1550.7L423.7 1546.8L424.3 1542.8L424.9 1538.9L425.5 1534.9L426.1 1531.0L426.7 1527.0L427.4 1523.0L428.0 1519.1L428.5 1515.1L429.1 1511.1L429.7 1507.2L430.2 1503.2L430.7 1499.2L431.2 1495.3L431.7 1491.3L432.2 1487.3L432.7 1483.3L433.1 1479.3L433.6 1475.4L434.0 1471.4L434.5 1467.4L434.9 1463.4L435.4 1459.4L435.8 1455.5L436.3 1451.5L436.7 1447.5L437.2 1443.5L437.7 1439.5L438.2 1435.6L438.6 1431.6L439.1 1427.6L439.6 1423.6L440.1 1419.7L440.6 1415.7L441.1 1411.7L441.7 1407.7L442.2 1403.8L442.7 1399.8L443.2 1395.8L443.7 1391.9L444.3 1387.9L444.8 1383.9L445.3 1379.9L445.8 1376.0L446.4 1372.0L446.9 1368.0L447.4 1364.1L448.0 1360.1L448.5 1356.1L449.0 1352.1L449.6 1348.2L450.1 1344.2L450.6 1340.2L451.2 1336.3L451.7 1332.3L452.2 1328.3L452.8 1324.3L453.3 1320.4L453.9 1316.4L454.5 1312.4L455.1 1308.5L455.7 1304.5L456.4 1300.6L457.0 1296.6L457.8 1292.7L458.5 1288.8L459.3 1284.8L460.1 1280.9L461.0 1277.0L461.8 1273.1L462.7 1269.2L463.6 1265.2L464.4 1261.3L465.3 1257.4L466.1 1253.5L466.8 1249.6L467.5 1245.6L468.2 1241.7L468.9 1237.7L469.5 1233.8L470.1 1229.8L470.6 1225.8L471.2 1221.9L471.7 1217.9L472.2 1213.9L472.7 1209.9L473.2 1205.9L473.6 1202.0L474.1 1198.0L474.5 1194.0L475.0 1190.0L475.5 1186.0L476.1 1182.1L476.7 1178.1L477.5 1174.2L478.3 1170.3L479.2 1166.4L480.2 1162.5L481.2 1158.6L482.1 1154.7L482.9 1150.8L483.7 1146.8L484.4 1142.9L485.1 1139.0L485.7 1135.0L486.3 1131.0L486.9 1127.1L487.5 1123.1L488.1 1119.1L488.7 1115.2L489.3 1111.2L490.0 1107.3L490.7 1103.3L491.4 1099.4L492.2 1095.5L493.1 1091.6L494.0 1087.7L494.9 1083.8L495.9 1079.9L496.8 1076.0L497.8 1072.1L498.8 1068.2L499.8 1064.3L500.9 1060.5L501.9 1056.6L502.9 1052.7L503.8 1048.8L504.8 1044.9L505.7 1041.0L506.6 1037.1L507.5 1033.2L508.3 1029.3L509.1 1025.4L510.0 1021.5L510.8 1017.5L511.6 1013.6L512.4 1009.7L513.2 1005.8L514.0 1001.8L514.9 997.9L515.8 994.0L516.8 990.1L517.9 986.3L519.2 982.5L520.7 978.8L522.2 975.1L523.6 971.3L524.6 967.5L525.4 963.5L526.0 959.5L526.6 955.6L527.2 951.6L528.0 947.7L529.1 943.8L530.3 940.0L531.6 936.2L532.9 932.4L534.2 928.6L535.3 924.8L536.4 920.9L537.4 917.0L538.3 913.1L539.3 909.2L540.2 905.3L541.1 901.4L542.1 897.5L543.1 893.7L544.2 889.8L545.4 886.0L546.7 882.2L548.1 878.5L549.7 874.8L551.2 871.1L552.7 867.3L553.9 863.6L555.0 859.7L556.0 855.9L556.8 851.9L557.6 848.0L558.4 844.0L559.3 840.0L560.3 836.1L561.6 832.4L563.3 828.8L565.3 825.3L567.5 822.0L569.7 818.6L571.4 815.1L572.7 811.3L573.8 807.4L574.8 803.5L575.8 799.6L577.0 795.8L578.5 792.1L580.4 788.6L582.7 785.2L585.0 782.0L587.2 778.6L589.2 775.1L590.9 771.5L592.5 767.8L594.0 764.0L596.0 760.5L598.6 757.6L602.0 755.4L605.3 753.2L608.0 750.4L610.3 747.1L612.3 743.5L614.4 740.1L617.0 736.9L620.1 734.3L623.4 731.9L625.9 729.0L627.1 725.2L627.9 721.0L628.9 717.1L631.0 713.8L634.1 711.3L637.2 708.7L639.4 705.4L641.0 701.7L642.1 697.6L643.0 693.4L644.1 689.5L646.0 686.2L649.0 683.7L652.5 681.7L655.7 679.2L658.0 676.0L660.0 672.4L662.1 669.0L664.8 666.0L667.8 663.3L670.8 660.6L673.3 657.6L675.2 654.1L676.9 650.4L678.9 646.9L681.6 644.0L684.6 641.4L687.6 638.7L690.5 635.8L693.1 632.8L695.5 629.6L697.7 626.2L699.7 622.8L701.5 619.2L703.1 615.6L704.6 611.9L706.0 608.1L707.3 604.3L708.5 600.4L709.7 596.6L710.9 592.7L712.2 588.9L713.6 585.1L715.0 581.4L716.6 577.8L718.4 574.2L720.2 570.7L722.1 567.2L723.9 563.6L725.5 559.9L726.9 556.1L728.0 552.0L728.9 547.9L730.2 544.2L732.4 541.1L735.6 538.9L739.1 536.7L742.0 533.8L744.5 530.3L747.2 527.8L750.9 527.2L755.0 527.4L758.7 526.5L761.7 523.8L764.2 520.4L766.4 516.9L768.6 513.4L770.7 510.0L772.8 506.6L775.1 503.4L777.6 500.3L780.4 497.4L783.6 495.1L787.1 493.6L791.0 493.2L795.0 493.7L799.0 495.1L802.8 497.0L806.1 499.3L809.0 502.1L811.6 505.1L814.0 508.3L816.1 511.7L818.2 515.1L820.2 518.6L822.3 522.0L824.5 525.3L826.8 528.4L829.4 531.4L831.9 534.4L834.5 537.5L836.9 540.8L839.0 544.5L840.9 548.5L842.8 552.2L845.2 554.8L848.3 555.5L852.3 554.2L856.3 552.7L860.1 551.2L863.3 549.3L866.0 546.3L868.0 542.6L869.3 538.3L871.0 534.7L874.1 533.4L878.2 533.2L882.0 531.8L885.2 529.2L888.9 527.8L892.7 528.9L895.9 531.9L898.8 532.5L901.6 529.6L904.2 525.8L906.6 522.5L908.8 519.3L911.0 516.0L912.9 512.5L914.7 508.9L916.2 505.2L917.5 501.4L918.6 497.6L919.5 493.8L920.3 489.9L921.0 485.9L921.6 482.0L922.1 478.0L922.6 474.0L923.1 470.0L923.6 466.0L924.1 462.0L924.7 458.0L925.4 454.0L926.1 450.0L926.9 446.1L927.8 442.2L928.7 438.3L929.7 434.4L930.8 430.6L931.9 426.8L933.1 423.0L934.4 419.2L935.7 415.4L937.1 411.7L938.6 408.0L940.1 404.3L941.6 400.6L943.2 396.9L944.9 393.2L946.6 389.5L948.5 385.9L950.6 382.5L952.9 379.3L955.6 376.4L958.6 373.8L961.8 371.3L964.8 368.6L967.8 365.9L971.4 364.1L975.3 363.8L978.8 365.1L981.9 367.6L984.6 370.8L987.0 374.3L989.3 377.6L991.3 381.0L993.1 384.4L994.6 388.0L995.8 391.8L996.9 395.8L998.4 399.9L1000.6 402.9L1003.6 401.8L1006.1 398.5L1008.0 394.7L1009.9 391.0L1011.9 387.6L1013.8 384.3L1015.7 380.9L1017.7 377.2L1019.9 373.4L1022.7 370.7L1026.3 369.7L1030.2 370.2L1033.9 371.8L1037.2 374.2L1040.1 377.1L1042.5 380.3L1044.7 383.8L1046.5 387.3L1048.0 391.0L1049.3 394.7L1050.5 398.5L1051.6 402.3L1052.6 406.2L1053.5 410.1L1054.5 414.1L1055.6 418.0L1056.7 421.8L1057.9 425.6L1059.3 429.3L1060.7 432.8L1062.3 436.5L1064.0 440.9L1065.9 444.8L1068.3 444.9L1070.6 441.3L1072.1 437.2L1073.0 433.1L1073.4 429.2L1073.9 425.3L1074.5 421.4L1075.2 417.5L1076.1 413.6L1077.1 409.8L1078.1 405.9L1079.3 402.1L1080.4 398.2L1081.6 394.4L1082.8 390.5L1084.0 386.5L1085.3 382.7L1086.9 379.0L1089.1 375.8L1092.0 373.2L1095.8 371.7L1099.7 372.4L1103.4 374.1L1107.5 374.8L1111.4 375.3L1114.7 376.8L1117.2 379.5L1119.2 383.0L1120.9 387.1L1122.4 391.3L1124.1 395.4L1125.9 399.1L1127.8 402.6L1129.7 406.0L1131.4 409.5L1132.9 413.1L1134.3 416.9L1135.6 420.7L1137.0 424.5L1138.4 428.3L1139.9 432.0L1141.5 435.7L1143.1 439.4L1144.8 443.0L1146.5 446.6L1148.2 450.2L1149.7 453.9L1151.2 457.6L1152.6 461.4L1153.9 465.2L1155.2 468.9L1156.6 472.7L1158.2 476.4L1159.8 480.0L1161.4 483.7L1163.0 487.4L1164.5 491.1L1165.8 494.9L1167.2 498.7L1168.7 502.4L1170.5 505.9L1172.5 509.3L1174.8 512.7L1177.0 516.0L1179.3 519.3L1181.6 522.6L1184.0 525.9L1186.4 529.1L1188.9 532.2L1191.6 535.1L1194.5 537.7L1197.6 540.2L1201.0 542.3L1204.6 544.1L1208.4 545.6L1212.3 546.6L1216.3 547.2L1220.3 547.1L1224.1 546.1L1227.9 544.6L1231.8 544.2L1235.8 544.7L1239.7 544.6L1243.4 543.2L1247.2 541.5L1250.9 540.0L1254.7 538.8L1258.6 537.8L1262.5 536.9L1266.4 536.1L1270.4 535.3L1274.2 534.0L1277.6 531.7L1281.0 529.7L1284.8 529.5L1288.8 530.2L1292.7 529.7L1296.6 528.4L1300.7 527.4L1304.0 528.7L1306.6 531.8L1309.7 534.6L1313.2 536.7L1316.9 538.6L1320.1 540.8L1322.4 543.8L1324.4 547.4L1326.4 551.0L1328.7 554.3L1331.2 557.5L1333.5 560.7L1335.6 564.1L1337.2 567.7L1338.6 571.4L1339.8 575.3L1340.8 579.2L1341.7 583.2L1342.6 587.0L1343.8 590.9L1345.2 594.6L1347.1 598.1L1349.1 601.7L1351.0 605.3L1352.4 609.0L1353.6 612.8L1354.6 616.6L1355.4 620.6L1356.2 624.5L1356.9 628.5L1357.6 632.4L1358.5 636.3L1359.5 640.2L1360.7 644.0L1361.8 647.9L1363.1 651.7L1364.3 655.5L1365.5 659.3L1366.6 663.1L1367.7 667.0L1368.6 670.9L1369.6 674.8L1370.5 678.7L1371.3 682.6L1372.2 686.5L1373.2 690.4L1374.2 694.3L1375.2 698.1L1376.4 702.0L1377.5 705.8L1378.7 709.7L1379.8 713.5L1381.0 717.3L1382.1 721.2L1383.1 725.0L1384.1 728.9L1385.0 732.8L1385.9 736.7L1386.8 740.6L1387.6 744.5L1388.5 748.5L1389.3 752.4L1390.2 756.3L1391.0 760.2L1391.9 764.1L1392.8 768.0L1393.7 771.9L1394.7 775.8L1395.7 779.7L1396.7 783.6L1397.8 787.4L1398.9 791.3L1400.0 795.1L1401.2 799.0L1402.3 802.8L1403.3 806.7L1404.3 810.5L1405.2 814.4L1406.0 818.4L1406.8 822.3L1407.7 826.2L1408.6 830.1L1409.5 834.0L1410.5 837.9L1411.5 841.7L1412.6 845.6L1413.7 849.5L1414.7 853.3L1415.9 857.2L1417.0 861.0L1418.1 864.9L1419.3 868.7L1420.4 872.5L1421.6 876.4L1422.8 880.2L1424.0 884.0L1425.2 887.8L1426.4 891.7L1427.6 895.5L1428.8 899.3L1430.0 903.1L1431.2 906.9L1432.4 910.7L1433.7 914.5L1434.9 918.4L1436.1 922.2L1437.4 926.0L1438.6 929.8L1439.8 933.6L1441.1 937.4L1442.3 941.2L1443.5 945.0L1444.8 948.8L1446.0 952.7L1447.2 956.5L1448.5 960.3L1449.7 964.1L1450.9 967.9L1452.1 971.7L1453.3 975.6L1454.5 979.4L1455.7 983.2L1456.9 987.0L1458.2 990.8L1459.4 994.6L1460.7 998.4L1462.1 1002.2L1463.4 1005.9L1464.8 1009.7L1466.3 1013.4L1467.8 1017.1L1469.3 1020.8L1470.8 1024.5L1472.4 1028.2L1473.9 1031.9L1475.5 1035.6L1477.1 1039.3L1478.7 1042.9L1480.4 1046.6L1482.1 1050.2L1483.9 1053.7L1485.8 1057.3L1487.8 1060.8L1489.8 1064.2L1492.0 1067.6L1494.4 1070.7L1497.2 1073.6L1500.3 1076.1L1503.9 1078.0L1507.9 1079.2L1511.9 1079.7L1515.8 1079.1L1519.3 1077.5L1522.6 1075.2L1525.6 1072.4L1528.2 1069.4L1530.7 1066.2L1532.9 1062.8L1534.9 1059.4L1536.8 1055.8L1538.6 1052.2L1540.2 1048.6L1541.8 1044.9L1543.3 1041.3L1544.8 1037.5L1546.2 1033.8L1547.5 1030.0L1548.8 1026.2L1550.0 1022.4L1551.2 1018.6L1552.4 1014.7L1553.6 1010.9L1554.7 1007.0L1555.8 1003.2L1557.0 999.4L1558.1 995.5L1559.3 991.7L1560.6 987.9L1562.0 984.2L1563.7 980.5L1565.5 976.9L1567.2 973.2L1568.4 969.5L1569.2 965.6L1569.6 961.6L1569.9 957.6L1570.1 953.5L1570.5 949.5L1571.0 945.5L1571.7 941.6L1572.5 937.7L1573.4 933.8L1574.5 929.9L1575.6 926.1L1576.8 922.2L1578.0 918.4L1579.1 914.6L1580.2 910.7L1581.1 906.8L1581.9 902.9L1582.6 899.0L1583.4 895.0L1584.2 891.1L1585.1 887.2L1586.2 883.3L1587.2 879.5L1588.3 875.6L1589.4 871.7L1590.4 867.8L1591.4 864.0L1592.2 860.0L1593.0 856.1L1593.8 852.2L1594.5 848.3L1595.2 844.3L1595.9 840.4L1596.6 836.5L1597.3 832.5L1598.1 828.6L1599.0 824.7L1599.8 820.8L1600.7 816.9L1601.6 813.0L1602.5 809.1L1603.4 805.2L1604.3 801.2L1605.1 797.3L1605.9 793.4L1606.7 789.5L1607.5 785.6L1608.3 781.6L1609.1 777.7L1609.8 773.8L1610.6 769.8L1611.3 765.9L1612.1 762.0L1612.8 758.0L1613.5 754.1L1614.3 750.1L1615.0 746.2L1615.7 742.3L1616.4 738.3L1617.2 734.4L1617.9 730.5L1618.7 726.5L1619.4 722.6L1620.2 718.7L1620.9 714.7L1621.7 710.8L1622.5 706.9L1623.2 702.9L1624.0 699.0L1624.8 695.1L1625.6 691.2L1626.4 687.2L1627.2 683.3L1628.0 679.4L1628.7 675.4L1629.5 671.5L1630.3 667.6L1631.1 663.7L1631.9 659.7L1632.7 655.8L1633.5 651.9L1634.3 648.0L1635.1 644.1L1635.9 640.1L1636.7 636.2L1637.5 632.3L1638.4 628.4L1639.2 624.4L1640.0 620.5L1640.9 616.6L1641.7 612.7L1642.5 608.8L1643.4 604.9L1644.2 600.9L1645.1 597.0L1646.0 593.1L1646.9 589.2L1647.7 585.3L1648.6 581.4L1649.5 577.5L1650.4 573.6L1651.4 569.7L1652.3 565.8L1653.3 561.9L1654.2 558.0L1655.2 554.1L1656.2 550.2L1657.2 546.4L1658.2 542.5L1659.3 538.6L1660.4 534.8L1661.5 530.9L1662.6 527.1L1663.7 523.2L1664.9 519.4L1666.0 515.6L1667.2 511.8L1668.5 507.9L1669.7 504.1L1671.0 500.3L1672.3 496.5L1673.6 492.8L1674.9 489.0L1676.3 485.2L1677.6 481.4L1679.0 477.7L1680.4 473.9L1681.8 470.2L1683.3 466.4L1684.7 462.7L1686.2 459.0L1687.7 455.3L1689.2 451.6L1690.8 447.9L1692.3 444.2L1693.8 440.5L1695.4 436.8L1697.0 433.1L1698.5 429.4L1700.1 425.7L1701.6 422.0L1703.2 418.3L1704.7 414.6L1706.3 410.9L1707.9 407.3L1709.5 403.6L1711.3 400.1L1713.3 396.5L1715.3 393.1L1717.5 389.7L1719.7 386.4L1722.0 383.1L1724.3 379.8L1726.7 376.6L1729.1 373.3L1731.5 370.2L1734.0 367.0L1736.5 363.9L1739.0 360.8L1741.6 357.7L1744.1 354.6L1746.7 351.6L1749.4 348.6L1752.0 345.6L1754.6 342.6L1757.3 339.6L1760.0 336.6L1762.7 333.6L1765.4 330.7L1768.1 327.8L1770.9 324.9L1773.7 322.0L1776.5 319.2L1779.4 316.4L1782.3 313.6L1785.2 310.8L1788.1 308.1L1791.1 305.5L1794.2 302.8L1797.2 300.2L1800.3 297.6L1803.4 295.1L1806.6 292.6L1809.8 290.2L1813.0 287.8L1816.2 285.5L1819.5 283.2L1822.8 281.0L1826.2 278.8L1829.6 276.7L1833.0 274.6L1836.4 272.6L1839.9 270.6L1843.4 268.7L1846.9 266.8L1850.5 264.9L1854.0 263.1L1857.6 261.3L1861.2 259.6L1864.9 257.8L1868.5 256.1L1872.2 254.5L1875.9 252.9L1879.6 251.3L1883.3 250.0L1887.2 248.9L1891.1 248.1L1895.0 247.5L1899.0 246.8L1902.8 245.8L1906.6 244.4L1910.3 243.0L1914.1 241.6L1917.9 240.6L1921.9 239.8L1925.8 239.1L1929.8 238.4L1933.7 237.7L1937.6 236.8L1941.5 235.9L1945.4 234.9L1949.3 234.0L1953.2 233.1L1957.1 232.3L1961.1 231.6L1965.0 231.0L1969.0 230.5L1973.0 230.1L1977.0 229.7L1981.0 229.4L1985.0 229.1L1989.0 228.8L1993.0 228.6L1997.0 228.3L2001.0 228.1L2005.0 227.9L2009.0 227.8L2013.0 227.6L2017.0 227.4L2021.0 227.3L2025.0 227.2L2029.0 227.0L2033.0 226.9L2037.0 226.8L2041.0 226.7L2045.0 226.5L2060.0 226.5" stroke="#00f" stroke-width="11.3"/>
<path id="c-mag" d="M441.9 1640.0L449.3 1598.5L450.0 1594.6L450.7 1590.6L451.4 1586.7L452.0 1582.7L452.5 1578.7L453.0 1574.7L453.5 1570.8L453.9 1566.8L454.3 1562.8L454.8 1558.8L455.2 1554.8L455.6 1550.9L456.0 1546.9L456.5 1542.9L456.9 1538.9L457.4 1534.9L457.9 1531.0L458.5 1527.0L459.0 1523.0L459.5 1519.0L460.1 1515.1L460.6 1511.1L461.2 1507.1L461.7 1503.2L462.2 1499.2L462.8 1495.2L463.3 1491.3L463.8 1487.3L464.4 1483.3L464.9 1479.3L465.4 1475.4L466.0 1471.4L466.5 1467.4L467.1 1463.5L467.6 1459.5L468.2 1455.5L468.7 1451.5L469.3 1447.6L469.8 1443.6L470.4 1439.6L470.9 1435.7L471.5 1431.7L472.1 1427.7L472.7 1423.8L473.2 1419.8L473.8 1415.9L474.4 1411.9L475.0 1407.9L475.6 1404.0L476.2 1400.0L476.8 1396.0L477.4 1392.1L478.0 1388.1L478.7 1384.2L479.3 1380.2L479.9 1376.3L480.5 1372.3L481.2 1368.3L481.8 1364.4L482.5 1360.4L483.1 1356.5L483.8 1352.5L484.4 1348.6L485.1 1344.6L485.8 1340.7L486.5 1336.7L487.2 1332.8L487.9 1328.8L488.7 1324.9L489.6 1321.0L490.4 1317.1L491.4 1313.2L492.4 1309.3L493.4 1305.5L494.6 1301.6L495.8 1297.8L497.1 1294.0L498.3 1290.1L499.4 1286.3L500.4 1282.4L501.2 1278.5L502.0 1274.6L502.7 1270.6L503.3 1266.7L503.9 1262.7L504.6 1258.7L505.3 1254.8L506.0 1250.8L506.8 1246.9L507.6 1243.0L508.5 1239.1L509.4 1235.2L510.3 1231.3L511.1 1227.4L512.0 1223.4L512.8 1219.5L513.7 1215.6L514.5 1211.7L515.3 1207.8L516.2 1203.9L517.0 1199.9L517.8 1196.0L518.7 1192.1L519.5 1188.2L520.4 1184.3L521.2 1180.4L522.1 1176.4L523.0 1172.5L523.9 1168.6L524.9 1164.7L525.8 1160.9L526.8 1157.0L527.7 1153.1L528.7 1149.2L529.7 1145.3L530.7 1141.4L531.7 1137.6L532.7 1133.7L533.7 1129.8L534.7 1125.9L535.7 1122.0L536.7 1118.2L537.7 1114.3L538.7 1110.4L539.7 1106.5L540.7 1102.6L541.7 1098.8L542.7 1094.9L543.6 1091.0L544.6 1087.1L545.5 1083.2L546.5 1079.3L547.4 1075.4L548.3 1071.5L549.2 1067.6L550.1 1063.7L551.0 1059.8L551.9 1055.9L552.8 1052.0L553.7 1048.0L554.6 1044.1L555.5 1040.2L556.4 1036.3L557.3 1032.4L558.2 1028.5L559.2 1024.6L560.1 1020.8L561.1 1016.9L562.1 1013.0L563.1 1009.1L564.1 1005.2L565.1 1001.4L566.2 997.5L567.2 993.6L568.3 989.8L569.4 985.9L570.6 982.1L571.7 978.3L572.9 974.4L574.0 970.6L575.2 966.8L576.4 962.9L577.6 959.1L578.9 955.3L580.1 951.5L581.4 947.7L582.7 943.9L584.1 940.2L585.5 936.4L586.9 932.7L588.3 928.9L589.8 925.2L591.3 921.5L592.8 917.8L594.4 914.1L595.9 910.3L597.6 906.7L599.5 903.2L601.8 899.9L604.4 897.0L607.4 894.2L610.4 891.5L613.5 888.9L616.4 886.1L618.9 883.0L621.1 879.7L622.9 876.2L624.6 872.5L626.2 868.8L627.7 865.1L629.4 861.4L631.2 857.8L633.0 854.2L634.8 850.6L636.4 847.0L637.9 843.3L639.3 839.6L640.5 835.8L641.6 831.9L642.6 828.0L643.5 824.1L644.4 820.1L645.4 816.2L646.6 812.3L648.1 808.7L649.9 805.2L652.3 802.1L655.3 799.2L657.9 796.1L659.7 792.4L661.4 788.7L664.0 785.8L667.6 784.6L671.6 785.3L675.4 785.8L679.1 784.5L682.7 782.5L686.2 780.4L689.6 778.2L692.1 775.3L693.6 771.7L694.6 767.8L695.5 763.8L696.5 759.9L697.4 756.0L698.4 752.1L699.4 748.2L700.4 744.3L701.5 740.5L702.5 736.6L703.5 732.7L704.5 728.9L705.5 725.0L706.5 721.1L707.5 717.3L708.5 713.4L709.4 709.5L710.3 705.6L711.2 701.6L712.0 697.7L712.8 693.8L713.5 689.9L714.2 685.9L715.0 682.0L715.8 678.1L716.7 674.2L717.6 670.3L718.7 666.4L719.8 662.6L720.9 658.7L722.0 654.9L723.2 651.0L724.3 647.2L725.3 643.4L726.3 639.5L727.2 635.6L727.9 631.6L728.6 627.6L729.2 623.5L729.9 619.5L731.0 615.6L732.6 612.0L734.8 608.8L737.5 605.8L740.2 602.8L742.5 599.6L744.2 596.0L745.5 592.2L746.7 588.3L748.2 584.5L750.2 581.1L752.6 577.9L755.1 574.8L757.6 571.6L759.8 568.2L761.6 564.6L763.0 560.8L764.1 557.0L764.9 553.0L765.6 549.1L766.5 545.2L767.7 541.4L769.3 537.8L771.2 534.2L773.2 530.7L775.2 527.2L776.9 523.6L778.3 519.8L779.3 515.8L780.1 511.7L781.1 507.8L782.8 504.4L785.6 501.7L788.8 499.2L791.6 496.3L793.8 492.7L796.0 489.3L799.1 486.9L802.8 486.3L806.4 487.8L809.7 490.4L812.8 493.2L815.6 496.1L818.1 499.2L820.2 502.5L822.1 506.0L823.5 509.7L824.7 513.5L825.6 517.4L826.5 521.3L827.5 525.3L828.5 529.2L829.8 533.0L831.4 536.7L833.1 540.3L834.8 544.0L836.3 547.7L837.5 551.4L838.6 555.3L839.6 559.1L840.4 563.1L841.3 567.0L842.1 571.0L842.9 575.0L843.9 578.9L845.1 582.7L846.8 586.2L849.1 589.4L852.0 592.1L855.3 594.7L858.2 597.6L860.5 600.9L862.9 603.9L866.2 606.2L869.7 608.3L872.2 611.1L873.5 614.8L874.3 619.0L875.5 623.0L877.3 626.6L879.5 629.9L882.2 632.8L884.9 635.8L887.2 639.0L889.6 642.3L892.4 645.6L895.8 647.5L899.0 646.3L901.5 642.9L903.5 639.2L905.1 635.5L906.4 631.8L907.8 628.0L909.1 624.3L910.3 620.4L911.4 616.6L912.4 612.7L913.4 608.9L914.3 605.0L915.1 601.0L915.8 597.1L916.5 593.1L917.1 589.2L917.7 585.2L918.3 581.2L918.8 577.2L919.3 573.3L919.7 569.3L920.2 565.3L920.6 561.3L921.1 557.3L921.5 553.3L922.0 549.4L922.4 545.4L922.9 541.4L923.4 537.4L924.0 533.5L924.6 529.5L925.2 525.6L925.8 521.7L926.5 517.7L927.1 513.8L927.8 509.8L928.4 505.9L928.9 501.9L929.5 497.9L930.1 493.9L930.7 489.9L931.3 485.9L931.9 482.0L932.6 478.0L933.4 474.1L934.1 470.2L934.9 466.3L935.8 462.4L936.6 458.5L937.5 454.6L938.5 450.7L939.5 446.9L940.5 443.0L941.6 439.2L942.7 435.3L943.8 431.5L945.0 427.6L946.2 423.7L947.4 419.9L948.7 416.0L950.0 412.1L951.4 408.3L952.9 404.5L955.0 401.3L957.9 398.9L961.5 397.4L965.3 396.0L968.1 393.2L970.2 389.5L973.0 387.3L976.4 388.1L979.5 391.1L981.9 394.4L984.0 397.8L986.1 401.3L988.1 404.8L990.1 408.2L991.9 411.6L993.5 415.1L995.0 418.9L996.2 423.0L997.4 427.4L998.9 431.2L1001.4 433.0L1004.0 431.3L1006.3 428.1L1008.0 424.5L1009.4 420.5L1010.7 416.4L1012.0 412.5L1013.6 408.9L1015.2 405.3L1016.9 401.9L1018.6 398.4L1020.2 394.7L1021.7 390.7L1023.4 386.7L1025.9 383.7L1029.2 382.9L1032.4 385.1L1034.9 388.2L1037.0 391.7L1038.8 395.5L1040.4 399.2L1042.2 402.8L1043.9 406.4L1045.4 410.0L1046.7 413.8L1047.9 417.6L1048.9 421.5L1049.8 425.4L1050.5 429.4L1051.3 433.3L1051.9 437.3L1052.6 441.2L1053.3 445.2L1054.1 449.1L1055.0 453.0L1056.0 456.8L1057.2 460.7L1058.6 464.4L1060.1 468.1L1061.5 471.9L1062.6 475.7L1063.9 479.7L1066.0 483.7L1068.3 485.5L1070.0 483.3L1071.3 478.7L1072.5 473.7L1073.7 469.5L1074.9 465.8L1076.0 462.2L1076.9 458.5L1077.7 454.7L1078.4 450.8L1079.0 446.8L1079.6 442.7L1080.2 438.7L1080.9 434.7L1081.6 430.7L1082.4 426.8L1083.2 422.8L1084.1 419.0L1085.1 415.1L1086.1 411.3L1087.1 407.5L1088.3 403.7L1089.5 399.9L1090.7 396.0L1091.8 391.9L1093.3 387.9L1095.8 385.0L1099.2 384.7L1102.6 386.7L1105.7 389.5L1108.4 392.6L1110.8 395.8L1112.9 399.1L1114.8 402.6L1116.5 406.2L1118.1 409.9L1119.5 413.6L1120.9 417.4L1122.2 421.2L1123.5 425.0L1124.8 428.8L1126.1 432.6L1127.4 436.4L1128.6 440.2L1129.9 444.0L1131.2 447.8L1132.4 451.6L1133.6 455.4L1134.9 459.2L1136.1 463.0L1137.3 466.8L1138.6 470.6L1139.8 474.5L1141.0 478.3L1142.2 482.1L1143.4 485.9L1144.6 489.7L1145.8 493.6L1147.0 497.4L1148.2 501.2L1149.4 505.0L1150.6 508.8L1151.8 512.7L1153.0 516.5L1154.2 520.3L1155.5 524.1L1156.7 527.9L1158.0 531.7L1159.3 535.5L1160.6 539.3L1161.9 543.1L1163.2 546.9L1164.5 550.6L1165.8 554.4L1167.1 558.2L1168.5 562.0L1169.8 565.8L1171.1 569.6L1172.4 573.4L1173.6 577.2L1174.9 581.0L1176.2 584.8L1177.4 588.6L1178.7 592.4L1179.9 596.2L1181.1 600.0L1182.2 603.8L1183.4 607.7L1184.5 611.5L1185.6 615.4L1186.7 619.3L1188.0 623.1L1189.7 626.7L1191.8 630.1L1194.1 633.4L1196.4 636.7L1198.4 640.2L1200.1 643.7L1201.6 647.4L1203.0 651.2L1204.3 655.0L1205.7 658.8L1207.2 662.5L1209.4 665.7L1212.3 668.4L1215.2 671.2L1217.8 674.3L1220.4 677.4L1223.0 680.4L1225.8 683.2L1228.9 685.6L1232.4 687.6L1236.0 689.5L1239.5 691.5L1242.8 693.7L1245.9 696.3L1248.5 699.2L1251.1 702.2L1254.0 705.1L1257.3 707.3L1261.1 708.8L1264.7 710.4L1267.6 712.9L1270.2 716.0L1272.6 719.3L1275.4 722.2L1278.8 724.4L1282.5 726.2L1285.7 728.4L1288.1 731.4L1290.1 734.8L1291.8 738.6L1293.4 742.4L1295.1 746.1L1297.0 749.7L1299.1 753.1L1301.1 756.5L1303.1 759.9L1304.9 763.4L1306.4 767.1L1307.7 771.0L1308.7 774.9L1309.7 778.8L1310.5 782.7L1311.3 786.7L1312.1 790.6L1312.9 794.5L1313.8 798.4L1314.8 802.2L1316.0 806.1L1317.2 809.9L1318.5 813.7L1319.7 817.5L1320.9 821.4L1321.9 825.2L1322.8 829.1L1323.6 833.1L1324.4 837.0L1325.1 840.9L1325.9 844.9L1326.7 848.8L1327.5 852.7L1328.3 856.6L1329.3 860.5L1330.3 864.4L1331.4 868.3L1332.6 872.1L1333.7 875.9L1334.8 879.8L1335.9 883.7L1336.8 887.6L1337.6 891.5L1338.2 895.4L1338.9 899.4L1339.5 903.3L1340.2 907.3L1341.0 911.2L1341.8 915.1L1342.6 919.0L1343.4 923.0L1344.3 926.9L1345.1 930.8L1345.9 934.7L1346.8 938.6L1347.7 942.5L1348.7 946.4L1349.8 950.2L1350.9 954.1L1352.0 957.9L1352.9 961.8L1353.7 965.8L1354.4 969.7L1355.1 973.7L1355.7 977.7L1356.3 981.7L1357.0 985.6L1357.8 989.5L1358.8 993.4L1359.9 997.2L1361.2 1001.0L1362.5 1004.8L1363.9 1008.5L1365.4 1012.3L1366.8 1016.0L1368.2 1019.8L1369.5 1023.5L1370.8 1027.4L1372.0 1031.2L1373.2 1035.1L1374.4 1038.9L1375.9 1042.6L1377.6 1046.2L1379.6 1049.6L1381.9 1052.9L1384.2 1056.2L1386.3 1059.6L1388.3 1063.1L1390.5 1066.5L1393.1 1069.5L1396.1 1072.2L1399.5 1074.2L1403.0 1076.1L1406.2 1078.5L1409.2 1081.0L1412.4 1083.4L1415.7 1085.6L1419.1 1087.7L1422.5 1089.9L1425.8 1092.1L1429.1 1094.5L1432.2 1097.0L1435.2 1099.7L1438.0 1102.5L1440.8 1105.5L1443.3 1108.6L1445.7 1111.8L1448.0 1115.1L1450.2 1118.4L1452.3 1121.8L1454.4 1125.2L1456.5 1128.6L1458.5 1132.1L1460.6 1135.5L1462.8 1138.9L1464.9 1142.3L1466.8 1145.8L1468.2 1149.6L1469.7 1153.3L1471.7 1156.7L1474.3 1159.7L1477.0 1162.7L1479.2 1166.1L1481.3 1169.5L1483.8 1172.6L1486.4 1175.6L1488.6 1179.0L1490.5 1182.6L1492.7 1185.8L1495.6 1188.5L1498.7 1191.0L1501.8 1193.7L1505.0 1196.4L1508.4 1198.5L1512.0 1199.6L1516.0 1199.2L1519.9 1197.6L1523.2 1195.4L1526.4 1193.0L1529.8 1190.7L1532.7 1188.1L1534.8 1184.8L1536.6 1181.1L1538.6 1177.6L1540.9 1174.3L1543.1 1171.0L1545.0 1167.5L1546.8 1163.8L1548.2 1160.1L1549.4 1156.3L1550.5 1152.4L1551.5 1148.5L1552.3 1144.6L1553.2 1140.7L1554.0 1136.8L1555.0 1132.9L1556.0 1129.0L1557.1 1125.2L1558.3 1121.4L1559.6 1117.6L1561.0 1113.8L1562.4 1110.0L1563.8 1106.3L1565.1 1102.4L1566.1 1098.6L1567.1 1094.7L1567.8 1090.8L1568.5 1086.9L1569.1 1082.9L1569.6 1078.9L1570.0 1075.0L1570.4 1071.0L1570.8 1067.0L1571.2 1063.0L1571.6 1059.0L1572.1 1055.0L1572.7 1051.1L1573.4 1047.1L1574.3 1043.2L1575.2 1039.3L1576.3 1035.5L1577.4 1031.6L1578.5 1027.8L1579.6 1023.9L1580.6 1020.0L1581.5 1016.1L1582.3 1012.2L1583.1 1008.3L1583.8 1004.3L1584.5 1000.4L1585.2 996.4L1585.8 992.5L1586.5 988.5L1587.2 984.6L1588.0 980.6L1588.8 976.7L1589.6 972.8L1590.4 968.9L1591.3 965.0L1592.1 961.0L1593.0 957.1L1593.8 953.2L1594.5 949.3L1595.2 945.3L1595.9 941.4L1596.6 937.4L1597.2 933.5L1597.8 929.5L1598.4 925.5L1599.0 921.6L1599.6 917.6L1600.1 913.7L1600.7 909.7L1601.3 905.7L1601.9 901.8L1602.5 897.8L1603.1 893.8L1603.7 889.9L1604.3 885.9L1605.0 882.0L1605.6 878.0L1606.3 874.1L1606.9 870.1L1607.6 866.2L1608.3 862.2L1609.0 858.3L1609.6 854.3L1610.3 850.4L1611.0 846.4L1611.6 842.5L1612.3 838.5L1612.9 834.6L1613.5 830.6L1614.2 826.7L1614.8 822.7L1615.4 818.8L1616.0 814.8L1616.6 810.8L1617.2 806.9L1617.9 802.9L1618.5 799.0L1619.1 795.0L1619.8 791.1L1620.4 787.1L1621.1 783.2L1621.8 779.2L1622.4 775.3L1623.1 771.3L1623.8 767.4L1624.6 763.4L1625.3 759.5L1626.1 755.6L1626.8 751.6L1627.6 747.7L1628.4 743.8L1629.1 739.8L1629.9 735.9L1630.6 731.9L1631.3 728.0L1632.0 724.0L1632.8 720.1L1633.5 716.2L1634.3 712.2L1635.2 708.3L1636.2 704.5L1637.3 700.6L1638.5 696.8L1639.7 693.0L1640.9 689.2L1642.1 685.4L1643.1 681.6L1644.2 677.7L1645.2 673.8L1646.2 669.9L1647.2 666.0L1648.1 662.1L1649.0 658.2L1649.9 654.3L1650.8 650.4L1651.7 646.5L1652.6 642.6L1653.4 638.7L1654.3 634.8L1655.2 630.9L1656.0 626.9L1656.8 623.0L1657.7 619.1L1658.5 615.2L1659.4 611.3L1660.2 607.4L1661.1 603.5L1661.9 599.5L1662.7 595.6L1663.6 591.7L1664.4 587.8L1665.3 583.9L1666.2 580.0L1667.0 576.1L1667.9 572.2L1668.8 568.2L1669.7 564.3L1670.6 560.4L1671.5 556.5L1672.5 552.6L1673.5 548.8L1674.5 544.9L1675.6 541.0L1676.7 537.2L1677.9 533.3L1679.1 529.5L1680.4 525.8L1681.7 522.0L1683.1 518.2L1684.4 514.4L1685.6 510.6L1686.8 506.8L1687.9 502.9L1688.9 499.0L1689.8 495.1L1690.8 491.2L1691.8 487.3L1692.9 483.5L1694.0 479.6L1695.2 475.8L1696.6 472.1L1698.1 468.4L1699.8 464.7L1701.5 461.1L1703.3 457.5L1705.1 453.9L1706.9 450.3L1708.7 446.7L1710.5 443.1L1712.1 439.5L1713.7 435.8L1715.1 432.1L1716.5 428.3L1717.9 424.6L1719.5 420.9L1721.1 417.2L1722.9 413.6L1724.7 410.1L1726.6 406.6L1728.6 403.1L1730.6 399.6L1732.5 396.1L1734.5 392.6L1736.5 389.1L1738.5 385.6L1740.5 382.2L1742.6 378.8L1744.8 375.4L1747.0 372.1L1749.4 368.9L1751.8 365.7L1754.4 362.6L1757.1 359.6L1759.9 356.7L1762.7 353.9L1765.5 351.1L1768.4 348.2L1771.1 345.3L1773.7 342.2L1776.2 339.2L1778.8 336.1L1781.5 333.1L1784.2 330.1L1786.9 327.2L1789.7 324.3L1792.3 321.2L1794.8 318.1L1797.3 315.0L1800.0 312.0L1802.8 309.3L1806.0 306.8L1809.2 304.4L1812.6 302.2L1815.9 299.9L1819.2 297.6L1822.5 295.2L1825.7 293.0L1829.1 290.8L1832.5 288.8L1836.0 287.0L1839.7 285.4L1843.6 284.1L1847.5 282.8L1851.2 281.2L1854.4 279.0L1857.4 276.3L1860.3 273.5L1863.4 271.0L1867.0 269.1L1870.6 267.4L1874.2 265.6L1877.8 263.8L1881.4 262.1L1885.1 260.6L1888.9 259.2L1892.6 257.6L1896.0 255.7L1899.4 253.5L1903.0 251.7L1906.7 250.2L1910.5 249.1L1914.5 248.1L1918.4 247.2L1922.4 246.3L1926.3 245.4L1930.1 244.5L1934.0 243.4L1937.8 242.3L1941.7 241.0L1945.5 239.7L1949.3 238.5L1953.2 237.5L1957.1 236.8L1961.0 236.3L1965.0 236.0L1969.1 235.9L1973.1 235.7L1977.1 235.5L1981.1 235.3L1985.1 235.0L1989.1 234.6L1993.1 234.2L1997.1 233.8L2001.0 233.3L2005.0 232.9L2009.0 232.6L2013.0 232.4L2017.0 232.2L2021.0 232.1L2025.0 232.1L2029.0 232.0L2033.0 231.9L2037.0 231.8L2041.0 231.5L2045.0 231.0L2060.0 231.0" stroke="#f0f" stroke-width="11.3"/>
</g>
<g id="arrows">
<line x1="600.8" y1="281.3" x2="604.2" y2="317.5" stroke="#000" stroke-width="2.0"/><polygon points="607.4,352.3 594.1,316.4 613.8,314.5" fill="#000"/>
<line x1="690.5" y1="281.3" x2="691.2" y2="308.3" stroke="#000" stroke-width="2.0"/><polygon points="692.0,343.3 681.2,306.6 701.0,306.1" fill="#000"/>
<line x1="828.0" y1="168.2" x2="830.4" y2="210.6" stroke="#000" stroke-width="2.0"/><polygon points="832.4,245.5 820.4,209.1 840.2,208.0" fill="#000"/>
<line x1="907.4" y1="141.5" x2="907.4" y2="207.7" stroke="#000" stroke-width="3.0"/><polygon points="907.4,242.7 897.5,205.7 917.3,205.7" fill="#000"/>
<line x1="1006.0" y1="173.7" x2="1005.9" y2="241.7" stroke="#000" stroke-width="2.0"/><polygon points="1005.8,276.7 996.0,239.7 1015.8,239.7" fill="#000"/>
<line x1="1095.1" y1="272.5" x2="1078.8" y2="351.0" stroke="#000" stroke-width="2.0"/><polygon points="1071.7,385.3 1069.5,347.1 1088.9,351.1" fill="#000"/>
<line x1="1257.7" y1="363.4" x2="1223.2" y2="489.1" stroke="#000" stroke-width="2.0"/><polygon points="1214.0,522.9 1214.2,484.6 1233.3,489.8" fill="#000"/>
<line x1="863.1" y1="454.5" x2="853.4" y2="515.8" stroke="#000" stroke-width="2.0"/><polygon points="848.0,550.4 844.0,512.3 863.5,515.4" fill="#000"/>
<line x1="846.7" y1="693.4" x2="888.1" y2="572.5" stroke="#000" stroke-width="2.0"/><polygon points="899.4,539.4 896.8,577.6 878.1,571.2" fill="#000"/>
<line x1="855.9" y1="699.8" x2="871.7" y2="674.7" stroke="#000" stroke-width="2.0"/><polygon points="890.3,645.1 879.0,681.7 862.2,671.2" fill="#000"/>
<line x1="990.0" y1="853.4" x2="997.2" y2="780.1" stroke="#000" stroke-width="2.0"/><polygon points="1000.6,745.3 1006.8,783.1 987.1,781.2" fill="#000"/>
<line x1="1104.0" y1="817.9" x2="1088.0" y2="777.8" stroke="#000" stroke-width="2.0"/><polygon points="1075.0,745.3 1097.9,776.0 1079.5,783.3" fill="#000"/>
<line x1="1275.6" y1="777.2" x2="1282.9" y2="709.0" stroke="#000" stroke-width="2.0"/><polygon points="1286.6,674.2 1292.5,712.0 1272.8,709.9" fill="#000"/>
<line x1="1525.9" y1="859.9" x2="1522.0" y2="804.4" stroke="#000" stroke-width="2.0"/><polygon points="1519.5,769.5 1532.0,805.7 1512.2,807.1" fill="#000"/>
<line x1="1525.0" y1="1244.7" x2="1511.7" y2="1133.0" stroke="#000" stroke-width="2.0"/><polygon points="1507.5,1098.2 1521.7,1133.8 1502.1,1136.1" fill="#000"/>
<line x1="878.9" y1="1148.3" x2="878.9" y2="1077.7" stroke="#000" stroke-width="2.0"/><polygon points="878.9,1042.7 888.8,1079.7 869.0,1079.7" fill="#000"/>
<line x1="647.8" y1="1201.8" x2="642.6" y2="1029.1" stroke="#000" stroke-width="2.0"/><polygon points="641.5,994.1 652.5,1030.8 632.7,1031.4" fill="#000"/>
<line x1="1712.0" y1="1461.2" x2="1566.4" y2="1513.7" stroke="#000" stroke-width="2.0"/><polygon points="1533.5,1525.6 1564.9,1503.7 1571.7,1522.4" fill="#000"/>
</g>
<g id="labels">
<text id="yt0" font-size="65" transform="translate(177.14,215.84) scale(1.0192,1.0079)">1.0</text>
<text id="yt1" font-size="65" transform="translate(179.10,651.96) scale(1.0020,1.0079)">0.8</text>
<text id="yt2" font-size="65" transform="translate(179.11,1088.08) scale(0.9954,1.0079)">0.6</text>
<text id="yt3" font-size="65" transform="translate(179.14,1524.20) scale(0.9826,1.0079)">0.4</text>
<text id="xt" font-size="65" transform="translate(1079.89,1691.39) scale(0.9930,1.0286)">1500</text>
<text id="xtitle" font-size="80" transform="translate(1067.74,1853.27) scale(1.0319,0.9980)">ν, cm</text>
<text id="xsup" font-size="45" transform="translate(1246.40,1813.90) scale(0.9121,1.0420)">-1</text>
<text id="ytitle" font-size="80" transform="translate(55.30,988.71) rotate(-90) scale(1.0577,0.9545)">a.u.</text>
<text id="lab0" class="b" font-size="57" transform="translate(632.70,285.85) rotate(-90) scale(1.0117,1.0013)">1310</text>
<text id="lab1" class="b" font-size="57" transform="translate(718.95,284.83) rotate(-90) scale(1.0060,1.0013)">1336</text>
<text id="lab2" class="b" font-size="57" transform="translate(860.85,164.11) rotate(-90) scale(1.0028,1.0013)">1385</text>
<text id="lab3" class="b" font-size="57" transform="translate(943.65,134.63) rotate(-90) scale(1.0074,1.0213)">1414</text>
<text id="lab4" class="b" font-size="57" transform="translate(1036.55,163.06) rotate(-90) scale(1.0130,1.0013)">1449</text>
<text id="lab5" class="b" font-size="57" transform="translate(1134.65,267.73) rotate(-90) scale(1.0075,1.0213)">1471</text>
<text id="lab6" class="b" font-size="57" transform="translate(1305.40,357.51) rotate(-90) scale(1.0241,1.0013)">1527</text>
<text id="lab7" class="b" font-size="57" transform="translate(891.95,455.93) rotate(-90) scale(0.9840,1.0013)">1391</text>
<text id="lab8" class="b" font-size="57" transform="translate(880.00,817.12) rotate(-90) scale(1.0483,1.0213)">1411</text>
<text id="lab9" class="b" font-size="57" transform="translate(1032.85,957.15) rotate(-90) scale(1.0120,1.0213)">1447</text>
<text id="lab10" class="b" font-size="57" transform="translate(1139.40,939.97) rotate(-90) scale(1.0150,1.0146)">1472</text>
<text id="lab11" class="b" font-size="57" transform="translate(1299.40,912.28) rotate(-90) scale(1.0188,1.0079)">1551</text>
<text id="lab12" class="b" font-size="57" transform="translate(1559.15,980.26) rotate(-90) scale(1.0131,1.0013)">1632</text>
<text id="lab13" class="b" font-size="57" transform="translate(914.40,1256.46) rotate(-90) scale(0.9908,1.0013)">1404</text>
<text id="lab14" class="b" font-size="57" transform="translate(687.70,1314.07) rotate(-90) scale(0.9944,1.0013)">1315</text>
<text id="lab15" class="b" font-size="57" transform="translate(1555.00,1373.91) rotate(-90) scale(1.0243,1.0013)">1632</text>
<text id="lab16" class="b" font-size="57" transform="translate(1782.95,1496.13) rotate(-90) scale(1.0074,1.0013)">1635</text>
<text id="leg0" class="b" font-size="57" transform="translate(1980.78,180.47) scale(1.0229,0.9738)">Fe<tspan dy="19.5" font-size="37">3</tspan><tspan dy="-19.5" font-size="57">O</tspan><tspan dy="19.5" font-size="37">4</tspan><tspan dy="-19.5" font-size="57">/SiO</tspan><tspan dy="19.5" font-size="37">2</tspan><tspan dy="-19.5" font-size="57">-NH</tspan><tspan dy="19.5" font-size="37">2</tspan></text>
<text id="leg1" class="b" font-size="57" transform="translate(1718.68,346.17) scale(1.0243,0.9738)">Fe<tspan dy="19.5" font-size="37">3</tspan><tspan dy="-19.5" font-size="57">O</tspan><tspan dy="19.5" font-size="37">4</tspan><tspan dy="-19.5" font-size="57">/SiO</tspan><tspan dy="19.5" font-size="37">2</tspan><tspan dy="-19.5" font-size="57">-NH</tspan><tspan dy="19.5" font-size="37">2</tspan><tspan dy="-19.5" font-size="57">-DTPA-Cu</tspan></text>
<text id="leg2" class="b" font-size="57" transform="translate(1720.58,483.17) scale(1.0233,0.9738)">Fe<tspan dy="19.5" font-size="37">3</tspan><tspan dy="-19.5" font-size="57">O</tspan><tspan dy="19.5" font-size="37">4</tspan><tspan dy="-19.5" font-size="57">/SiO</tspan><tspan dy="19.5" font-size="37">2</tspan><tspan dy="-19.5" font-size="57">-NH</tspan><tspan dy="19.5" font-size="37">2</tspan><tspan dy="-19.5" font-size="57">-DTPA-Cd</tspan></text>
<text id="leg3" class="b" font-size="57" transform="translate(1804.18,658.77) scale(1.0248,0.9738)">Fe<tspan dy="19.5" font-size="37">3</tspan><tspan dy="-19.5" font-size="57">O</tspan><tspan dy="19.5" font-size="37">4</tspan><tspan dy="-19.5" font-size="57">/SiO</tspan><tspan dy="19.5" font-size="37">2</tspan><tspan dy="-19.5" font-size="57">-NH</tspan><tspan dy="19.5" font-size="37">2</tspan><tspan dy="-19.5" font-size="57">-DTPA</tspan></text>
</g>
</svg></body></html>
